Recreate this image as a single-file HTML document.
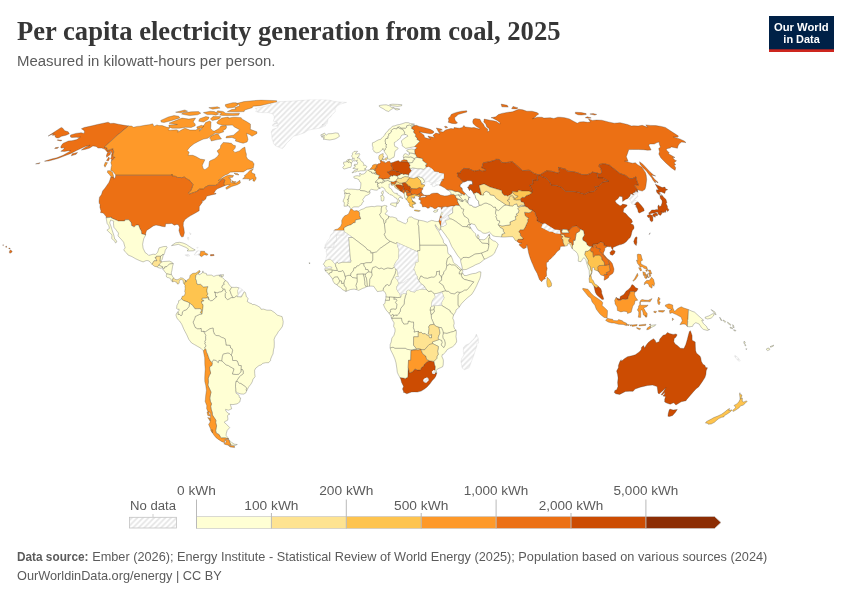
<!DOCTYPE html>
<html><head><meta charset="utf-8"><title>Per capita electricity generation from coal, 2025</title>
<style>html,body{margin:0;padding:0;background:#fff}svg{display:block;will-change:transform}</style></head>
<body><svg width="850" height="600" viewBox="0 0 850 600">

<defs><clipPath id="mapclip"><rect x="0" y="99.5" width="850" height="380"/></clipPath>
<pattern id="hatchm" patternUnits="userSpaceOnUse" width="5.6" height="5.6">
<rect width="5.6" height="5.6" fill="#fff"/><path d="M-1 6.6L6.6 -1M-1 1L1 -1M4.6 6.6L6.6 4.6" stroke="#e4e4e4" stroke-width="1.6" fill="none"/>
</pattern></defs>
<g clip-path="url(#mapclip)" stroke="#333333" stroke-width="0.5" stroke-opacity="0.55" stroke-linejoin="round">
<path d="M70.5 135.0L75.8 133.4L81.1 132.7L84.1 133.4L84.5 131.8L84.0 130.4L81.4 128.8L84.2 127.5L92.1 125.8L97.3 124.5L108.1 122.2L110.4 123.4L113.9 123.3L118.3 124.2L122.9 125.1L128.6 125.9L116.1 136.3L104.2 147.3L107.0 147.8L107.5 150.5L110.5 149.4L113.1 148.5L113.1 149.5L113.6 150.9L113.8 151.9L112.9 155.1L112.8 156.3L115.0 157.5L114.7 158.0L113.1 159.5L111.4 160.9L111.7 159.5L110.6 158.7L111.4 157.0L111.4 155.3L111.9 153.4L111.5 152.2L110.9 151.2L108.7 152.2L107.1 151.9L106.3 150.9L104.6 149.1L101.6 148.1L98.0 148.1L96.1 146.4L92.9 145.9L89.7 148.1L85.6 149.3L81.3 150.0L85.8 146.9L90.1 145.2L85.7 146.2L80.8 148.5L76.5 150.5L70.9 153.4L64.2 156.0L57.8 158.5L52.4 160.0L48.5 161.0L44.5 161.2L51.5 159.0L56.7 157.8L63.1 155.3L68.4 152.2L70.7 150.9L68.2 150.7L64.6 151.4L60.8 151.3L63.7 149.3L64.5 147.8L61.1 148.1L60.7 146.9L62.0 144.5L63.3 143.3L68.4 141.0L71.9 140.7L76.9 139.6L80.5 137.0L78.7 137.5L76.4 137.2L71.8 137.5L70.5 137.0Z" fill="#ec7014"/>
<path d="M128.6 125.9L131.6 126.1L133.5 127.3L137.1 126.4L139.8 126.2L146.1 125.1L149.1 124.7L152.6 123.8L153.2 124.7L153.8 126.4L157.0 124.9L158.9 125.6L162.2 125.6L167.0 127.3L170.2 127.5L168.0 129.8L170.1 130.2L176.5 129.8L178.5 130.7L177.6 132.2L181.4 130.0L184.7 128.2L186.0 128.6L189.9 130.0L195.8 130.0L198.8 128.4L200.8 129.1L199.2 131.1L201.6 129.5L201.6 127.3L204.1 125.1L205.6 122.5L209.5 121.0L211.1 121.9L210.9 124.0L210.9 126.0L210.6 128.4L213.0 130.9L214.5 131.1L219.1 128.4L220.9 126.0L226.2 125.6L226.6 127.3L225.8 128.9L222.9 130.7L223.8 131.8L219.0 133.4L214.8 133.1L214.1 134.0L211.3 135.6L207.7 138.2L203.6 139.1L201.8 139.8L198.3 141.4L194.0 143.8L190.0 146.9L187.2 150.5L189.2 152.2L188.1 155.3L192.8 155.3L195.9 156.5L200.2 159.0L204.9 159.8L202.3 165.2L203.1 168.4L204.9 169.7L207.5 167.9L208.8 166.4L209.2 162.7L209.7 161.0L214.7 158.7L217.4 156.5L219.0 154.1L217.0 150.9L220.5 148.1L220.6 145.7L223.2 142.4L228.0 142.8L231.4 143.3L233.2 145.0L235.5 145.7L235.2 148.1L233.1 150.5L234.9 152.4L239.4 150.9L242.5 148.3L244.9 147.1L245.6 151.7L246.4 154.1L246.3 156.5L247.6 159.0L250.4 160.7L252.4 161.4L254.1 163.9L253.6 166.4L253.4 167.7L250.6 168.9L247.2 169.4L243.4 171.9L239.4 171.9L234.4 171.9L230.3 172.2L227.6 174.2L225.1 175.0L222.0 177.3L218.2 180.6L222.1 178.3L225.9 176.0L229.3 175.0L233.6 175.5L232.6 177.3L228.7 177.8L231.0 179.1L230.6 180.8L230.9 182.4L232.8 182.9L236.0 183.1L239.9 180.3L240.4 182.9L237.4 184.7L231.7 186.5L226.6 189.3L225.7 187.8L230.2 184.7L227.0 184.9L224.7 185.7L224.6 185.8L224.2 184.7L223.7 183.7L224.9 180.1L224.1 179.4L222.4 179.2L220.1 181.1L218.7 183.1L217.3 184.4L215.5 185.4L208.8 185.4L208.1 185.7L204.8 187.5L203.2 189.1L199.6 189.1L198.1 190.0L197.8 191.1L194.2 192.4L189.4 194.0L188.4 193.2L188.7 192.4L190.9 190.6L193.0 184.7L191.6 182.6L190.4 181.6L190.0 180.6L187.2 179.1L184.2 177.0L181.7 177.8L180.8 177.5L177.7 177.5L175.3 176.3L172.2 176.0L172.0 174.2L171.5 175.2L115.7 175.2L115.4 174.5L114.0 172.7L112.9 171.4L110.8 170.2L111.1 167.7L111.7 165.2L110.8 162.7L111.4 161.0L111.4 160.9L113.1 159.5L114.7 158.0L115.0 157.5L112.8 156.3L112.9 155.1L113.8 151.9L113.6 150.9L113.1 149.5L113.1 148.5L110.5 149.4L107.5 150.5L107.0 147.8L104.2 147.3L116.1 136.3Z" fill="#fe9929"/>
<path d="M224.6 185.8L221.1 187.2L217.4 188.8L215.4 190.6L215.0 191.6L214.1 192.4L214.8 193.7L216.0 193.1L215.8 194.1L213.5 194.5L211.2 195.0L207.3 196.0L206.4 196.8L205.7 199.1L203.2 201.1L202.3 199.9L202.4 202.3L199.7 205.9L199.3 206.4L199.2 210.7L196.7 212.2L193.1 214.3L190.3 215.8L187.7 217.6L185.0 219.5L183.4 222.6L183.2 225.7L183.9 228.6L184.4 232.8L183.4 236.5L181.7 237.1L180.3 235.1L179.7 233.1L178.9 230.4L179.5 227.3L178.3 224.7L176.8 224.4L174.2 225.2L171.9 223.4L168.6 223.7L165.7 223.7L165.2 226.8L162.4 226.5L159.6 225.7L156.0 225.1L153.2 226.0L149.7 228.4L146.6 230.4L145.7 233.3L145.7 234.9L141.6 233.8L141.3 231.0L140.0 228.9L138.5 225.0L136.1 225.1L134.2 227.1L131.5 225.5L131.2 222.7L128.8 219.8L125.0 219.8L124.7 221.0L118.3 221.0L111.2 217.9L111.6 217.3L106.1 217.8L106.1 217.8L106.1 216.6L104.5 214.6L104.5 214.0L102.7 212.9L100.5 212.6L101.0 210.9L99.9 207.2L100.1 204.1L99.2 203.6L99.0 201.0L99.5 197.2L101.5 194.5L102.6 191.0L105.1 188.0L108.9 182.4L109.8 180.3L110.9 176.8L114.0 177.3L113.9 179.1L115.4 177.3L115.7 175.2L171.5 175.2L172.0 174.2L172.2 176.0L175.3 176.3L177.7 177.5L180.8 177.5L181.7 177.8L184.2 177.0L187.2 179.1L190.0 180.6L190.4 181.6L191.6 182.6L193.0 184.7L190.9 190.6L188.7 192.4L188.4 193.2L189.4 194.0L194.2 192.4L197.8 191.1L198.1 190.0L199.6 189.1L203.2 189.1L204.8 187.5L208.1 185.7L208.8 185.4L215.5 185.4L217.3 184.4L218.7 183.1L220.1 181.1L222.4 179.2L224.1 179.4L224.9 180.1L223.7 183.7L224.2 184.7Z" fill="#ec7014"/>
<path d="M145.7 234.9L145.7 235.0L143.7 238.8L142.6 244.3L143.1 248.2L145.2 252.6L147.5 254.2L148.7 255.4L153.2 254.2L155.4 254.5L157.5 252.4L158.2 250.6L159.0 247.9L163.3 246.6L166.5 246.4L167.1 247.7L165.3 250.0L164.8 252.4L163.7 255.0L163.1 254.5L162.7 254.5L161.2 256.0L160.5 256.3L156.3 256.3L156.1 257.7L155.1 257.7L156.0 258.7L157.0 260.8L154.1 260.8L152.8 263.0L152.1 264.4L149.1 261.0L147.1 260.5L146.2 260.6L143.1 261.9L139.8 260.7L135.7 258.8L131.9 256.6L128.0 255.0L126.5 252.9L124.2 250.8L123.9 249.5L125.1 247.9L124.8 246.6L123.6 242.2L121.0 239.1L118.0 235.9L118.5 233.1L116.6 230.7L116.1 229.9L113.9 227.3L113.4 223.1L113.8 221.3L110.7 219.9L109.7 222.9L111.1 226.5L112.0 229.7L113.0 232.8L113.9 235.4L114.7 239.1L115.9 239.8L116.9 241.9L115.5 243.0L114.9 241.4L111.7 238.5L112.0 234.9L109.6 232.8L107.3 230.4L106.9 230.1L109.4 228.4L108.8 225.7L107.1 223.4L106.5 220.0L106.1 217.8L111.6 217.3L111.2 217.9L118.3 221.0L124.7 221.0L125.0 219.8L128.8 219.8L131.2 222.7L131.5 225.5L134.2 227.1L136.1 225.1L138.5 225.0L140.0 228.9L141.3 231.0L141.6 233.8Z" fill="#ffffd4"/>
<path d="M163.1 254.5L162.8 257.1L162.0 259.7L160.5 261.3L159.8 261.3L160.5 256.3L161.2 256.0L162.7 254.5Z" fill="#ffffd4"/>
<path d="M160.5 261.3L162.0 261.8L159.5 264.0L159.0 265.1L157.2 266.9L157.2 266.9L154.7 266.4L152.5 264.8L152.1 264.4L152.8 263.0L154.1 260.8L157.0 260.8L156.0 258.7L155.1 257.7L156.1 257.7L156.3 256.3L160.5 256.3L159.8 261.3Z" fill="#fee391"/>
<path d="M162.0 261.8L162.0 261.8L163.6 261.5L167.1 261.3L169.4 261.1L171.6 262.1L173.2 263.5L169.3 264.1L167.0 266.6L164.8 266.9L164.8 268.1L163.4 268.8L163.2 268.1L162.3 267.8L162.7 266.8L160.9 266.2L159.0 265.1L159.5 264.0Z" fill="#ffffd4"/>
<path d="M173.2 263.5L173.4 263.6L172.6 266.2L172.0 270.1L171.3 272.8L171.3 274.3L171.4 274.3L170.5 274.6L168.5 274.2L166.7 273.9L166.7 273.9L165.0 272.0L163.3 269.6L162.5 269.0L163.4 268.8L164.8 268.1L164.8 266.9L167.0 266.6L169.3 264.1Z" fill="#ffffd4"/>
<path d="M171.4 274.3L172.7 276.7L173.6 277.8L173.7 277.9L172.8 279.0L172.5 281.7L171.1 280.6L171.1 279.3L168.9 277.7L167.8 277.7L166.5 276.9L166.3 275.6L166.7 273.9L168.5 274.2L170.5 274.6Z" fill="#ffffd4"/>
<path d="M173.7 277.9L174.8 279.3L177.1 279.8L179.4 278.8L180.7 277.7L182.9 278.2L185.4 280.2L185.5 281.9L184.0 283.9L183.0 281.9L183.5 280.9L181.7 279.6L180.6 279.4L179.3 281.1L179.2 283.2L178.3 283.9L177.1 283.9L177.0 282.4L175.4 281.9L174.7 281.4L172.6 281.8L172.5 281.7L172.8 279.0Z" fill="#fee391"/>
<path d="M162.3 267.8L160.7 268.3L157.8 267.5L157.2 266.9L159.0 265.1L160.9 266.2L162.7 266.8Z" fill="#ffffd4"/>
<path d="M194.1 254.9L196.9 251.0L198.3 250.8L200.6 251.2L200.7 251.2L200.5 253.2L199.7 254.2L200.0 255.6L198.7 255.3L197.9 254.6L198.8 254.2L196.2 255.1Z" fill="url(#hatchm)" stroke="#b8b8b8" stroke-width="0.4"/>
<path d="M200.7 251.2L204.6 251.3L204.7 252.4L208.0 254.2L207.1 255.3L204.2 254.7L201.5 256.7L200.1 255.7L200.0 255.6L199.7 254.2L200.5 253.2Z" fill="#fe9929"/>
<path d="M242.6 178.8L245.2 176.5L244.1 176.0L247.1 173.5L249.9 170.4L253.4 168.7L251.6 171.4L251.9 173.0L254.8 174.0L255.1 176.5L256.2 177.5L256.0 179.1L254.4 181.4L252.9 180.8L253.1 178.5L249.1 180.6L249.7 179.1L246.3 178.8Z" fill="#fe9929"/>
<path d="M107.6 170.7L110.4 170.7L112.6 172.5L113.6 176.3L113.2 177.0L110.9 176.5L109.6 174.7L107.4 172.5Z" fill="#fe9929"/>
<path d="M105.3 162.2L107.5 162.7L105.0 167.2L104.2 165.2Z" fill="#fe9929"/>
<path d="M234.0 173.0L237.8 173.7L239.0 175.0L235.5 174.5Z" fill="#fe9929"/>
<path d="M231.7 180.6L233.8 181.6L236.2 181.7L234.6 182.9L232.3 182.4Z" fill="#fe9929"/>
<path d="M236.0 117.2L241.2 117.7L241.8 118.9L246.4 121.5L250.4 124.0L250.5 126.7L250.3 129.3L256.9 131.8L257.0 133.4L252.0 136.3L249.5 134.5L246.6 133.4L247.4 136.8L248.0 139.6L247.1 141.9L243.1 143.3L240.0 142.4L235.4 141.0L235.9 139.1L232.0 137.5L225.9 137.9L226.6 136.3L233.4 135.2L236.9 132.2L238.8 130.7L239.6 129.8L234.4 126.9L232.3 125.1L227.2 125.3L222.5 125.3L218.3 124.0L216.7 123.0L218.1 120.8L221.8 118.1L228.3 117.0L228.5 118.1L233.6 117.2Z" fill="#fe9929"/>
<path d="M171.8 122.1L182.0 118.1L188.8 119.1L195.6 118.1L193.2 121.9L195.2 124.0L195.2 125.8L191.2 127.5L185.5 127.3L179.6 128.2L172.0 128.2L169.2 126.9L168.8 125.1L177.4 124.5L171.5 123.8L169.0 123.2Z" fill="#fe9929"/>
<path d="M160.8 120.4L168.3 117.0L174.0 115.6L178.7 116.2L179.9 117.9L170.8 120.8L164.0 122.5L161.2 122.1Z" fill="#fe9929"/>
<path d="M234.6 104.1L244.0 101.6L261.1 99.9L276.7 100.7L276.6 102.4L269.2 103.6L260.1 105.7L253.0 106.2L252.2 107.7L244.8 110.0L244.1 111.6L238.6 111.8L231.7 111.8L227.4 111.6L231.7 109.6L236.1 109.0L234.6 107.7L239.7 105.8L238.7 104.2Z" fill="#fe9929"/>
<path d="M225.4 104.6L232.8 102.7L236.3 102.7L237.9 104.9L233.3 107.5L227.5 108.1L225.4 106.2Z" fill="#fe9929"/>
<path d="M217.6 110.8L223.0 111.4L225.7 113.2L232.4 113.4L239.5 113.2L238.5 115.2L231.9 115.6L222.7 115.4L219.5 115.0L221.5 113.2L216.4 112.6Z" fill="#fe9929"/>
<path d="M183.2 112.8L191.4 111.8L198.5 111.6L200.8 113.2L197.6 114.8L189.7 115.6L185.2 114.8L181.6 114.0Z" fill="#fe9929"/>
<path d="M175.6 112.2L184.8 110.0L187.6 111.2L180.9 112.8Z" fill="#fe9929"/>
<path d="M203.4 112.6L210.4 111.2L214.4 111.6L218.7 114.0L215.9 115.2L211.9 114.6L207.2 114.6L205.2 113.6Z" fill="#fe9929"/>
<path d="M212.9 116.6L220.8 116.6L219.0 118.9L212.3 120.6L210.4 119.1Z" fill="#fe9929"/>
<path d="M199.7 118.7L205.8 116.6L209.1 117.2L208.2 119.3L203.6 122.1L198.7 121.2Z" fill="#fe9929"/>
<path d="M196.8 126.9L201.5 125.3L204.0 126.2L201.5 128.2L197.1 128.4Z" fill="#fe9929"/>
<path d="M210.8 136.3L215.9 134.0L218.3 134.3L220.0 137.0L221.5 138.9L217.5 139.6L211.2 141.0L210.7 139.1L209.5 138.2Z" fill="#fe9929"/>
<path d="M208.8 107.7L217.4 106.8L220.1 108.1L212.8 109.2Z" fill="#fe9929"/>
<path d="M171.5 245.6L175.8 242.7L179.7 242.3L183.0 243.0L186.2 244.3L189.3 246.4L192.0 248.2L195.2 249.9L193.3 250.8L187.2 251.0L188.5 249.0L185.8 247.4L181.5 245.6L178.3 244.3L174.8 245.1Z" fill="#ffffd4"/>
<path d="M185.1 254.7L188.3 254.6L190.0 255.8L187.7 256.4L185.3 255.4Z" fill="url(#hatchm)" stroke="#b8b8b8" stroke-width="0.4"/>
<path d="M210.5 254.6L214.0 254.6L214.1 255.5L210.5 255.9Z" fill="#ec7014"/>
<path d="M187.6 237.2L188.9 237.5L188.7 240.1L187.7 239.3Z" fill="url(#hatchm)" stroke="#b8b8b8" stroke-width="0.4"/>
<path d="M189.2 232.8L191.1 233.6L190.4 234.9L190.4 233.6Z" fill="url(#hatchm)" stroke="#b8b8b8" stroke-width="0.4"/>
<path d="M196.6 247.7L198.2 247.2L197.7 248.2Z" fill="url(#hatchm)" stroke="#b8b8b8" stroke-width="0.4"/>
<path d="M221.2 274.9L223.5 274.6L223.2 276.4L221.1 276.5Z" fill="#ffffd4"/>
<path d="M9.5 251.2L10.3 249.9L11.7 250.8L12.2 251.9L9.9 253.3L9.4 252.4Z" fill="#ec7014"/>
<path d="M8.7 248.2L9.9 248.1L10.2 248.7L9.2 249.0Z" fill="#ec7014"/>
<path d="M5.7 246.5L6.4 246.1L6.8 247.2L5.8 247.2Z" fill="#ec7014"/>
<path d="M2.6 245.1L3.6 244.8L3.3 245.6Z" fill="#ec7014"/>
<path d="M108.9 157.0L109.5 158.7L108.3 161.0L106.5 160.5Z" fill="#ec7014"/>
<path d="M107.5 152.6L110.8 152.2L110.2 154.6L106.6 157.3L106.5 155.3Z" fill="#ec7014"/>
<path d="M72.2 153.8L77.5 152.4L76.1 154.3L71.3 155.8Z" fill="#ec7014"/>
<path d="M57.6 139.8L61.8 140.3L61.2 141.0L57.3 140.3Z" fill="#ec7014"/>
<path d="M55.6 147.6L58.7 147.3L57.2 148.5L54.6 148.5Z" fill="#ec7014"/>
<path d="M35.6 163.9L40.2 162.7L38.8 163.7Z" fill="#ec7014"/>
<path d="M185.4 280.2L186.4 281.9L186.7 280.3L189.6 278.2L190.0 275.6L191.7 273.9L193.1 273.3L195.9 273.0L197.8 271.7L199.1 270.3L200.3 271.2L199.8 271.8L197.6 273.8L195.9 275.6L195.5 278.5L196.6 280.9L196.5 282.2L197.6 284.5L200.6 284.3L203.5 286.9L208.0 286.6L207.1 289.0L206.9 291.0L207.4 293.1L208.1 293.9L206.8 295.5L208.3 296.7L209.0 299.6L208.5 299.7L207.9 297.6L206.0 298.2L202.2 298.3L202.1 300.0L203.8 300.2L203.6 301.2L201.7 301.4L201.7 303.3L202.7 304.1L203.2 305.7L202.1 313.8L200.3 312.7L201.7 309.9L199.9 308.7L197.5 308.8L194.9 308.8L192.6 305.4L189.6 303.1L187.3 301.9L183.8 300.7L181.4 299.0L182.2 296.3L184.3 295.7L185.3 292.9L184.7 291.8L185.2 288.4L184.9 286.3L185.1 285.3L184.0 283.9L185.5 281.9Z" fill="#fec44f"/>
<path d="M199.8 271.8L198.3 273.8L199.0 274.9L200.4 274.2L202.3 273.0L202.9 270.9L203.4 272.8L206.4 273.5L206.7 275.1L209.7 275.1L211.6 275.1L213.8 276.4L216.4 275.4L221.2 274.9L219.1 275.6L219.5 276.4L222.0 277.2L223.6 278.8L225.4 280.5L223.6 283.1L224.5 284.3L222.5 285.3L221.9 287.3L223.3 289.2L222.8 290.9L220.8 292.0L218.6 292.2L218.0 293.1L214.4 292.1L215.3 292.6L215.6 296.3L217.1 296.5L215.7 297.7L212.2 300.7L210.3 300.8L209.0 299.6L208.3 296.7L206.8 295.5L208.1 293.9L207.4 293.1L206.9 291.0L207.1 289.0L208.0 286.6L203.5 286.9L200.6 284.3L197.6 284.5L196.5 282.2L196.6 280.9L195.5 278.5L195.9 275.6L197.6 273.8Z" fill="#ffffd4"/>
<path d="M225.4 280.5L227.6 281.9L229.1 284.8L231.7 287.3L229.9 290.3L231.2 294.2L233.0 297.7L231.1 297.7L229.5 298.9L227.6 299.7L225.6 298.0L225.0 296.0L225.3 293.4L226.0 292.5L225.1 291.0L224.8 289.2L223.3 289.2L221.9 287.3L222.5 285.3L224.5 284.3L223.6 283.1Z" fill="#ffffd4"/>
<path d="M231.7 287.3L234.3 287.4L236.6 287.3L238.9 287.8L237.8 291.0L238.3 295.0L237.4 296.7L236.4 296.1L234.3 297.6L233.0 297.7L231.2 294.2L229.9 290.3Z" fill="#ffffd4"/>
<path d="M238.9 287.8L241.2 288.4L242.8 290.0L244.2 291.8L242.7 294.6L241.3 297.1L239.2 296.8L237.4 296.7L238.3 295.0L237.8 291.0Z" fill="url(#hatchm)" stroke="#b8b8b8" stroke-width="0.4"/>
<path d="M244.2 291.8L245.5 292.6L246.4 296.8L248.2 298.4L247.2 301.5L249.8 303.1L251.9 303.8L252.6 304.6L254.2 304.4L257.2 305.7L260.2 307.5L261.1 309.3L263.4 309.1L266.9 310.2L271.0 310.2L274.5 312.5L277.3 315.1L280.4 316.1L282.1 316.6L282.8 319.8L283.2 321.5L283.0 324.0L282.2 326.8L279.7 330.2L278.4 331.5L277.3 333.6L275.1 336.8L274.1 339.4L274.3 343.3L274.2 347.2L273.5 349.8L273.0 354.0L272.0 355.8L270.6 359.2L270.7 360.3L268.6 362.7L265.9 362.7L262.6 363.4L261.1 365.0L259.1 365.5L255.8 368.1L254.6 370.2L254.7 373.3L255.1 376.7L253.0 379.3L252.2 381.9L250.8 384.3L248.7 386.9L246.6 391.0L246.1 389.4L246.8 388.2L244.9 386.4L242.9 384.9L240.5 383.4L239.6 383.4L237.5 381.4L235.8 381.7L237.3 379.9L239.1 377.0L240.7 375.5L243.2 373.7L243.2 371.4L242.6 369.7L240.9 369.7L241.2 365.6L238.7 365.4L237.4 361.2L235.7 360.5L232.6 360.5L232.4 357.4L231.5 355.5L231.5 354.5L232.6 350.3L231.9 348.6L230.6 348.0L230.1 345.4L226.0 345.2L225.7 342.2L225.1 338.8L223.7 338.1L221.4 337.3L219.0 335.8L216.0 335.5L214.3 334.1L213.3 331.0L213.1 328.1L210.1 328.7L207.2 330.6L205.7 331.8L203.7 331.4L201.3 331.5L201.1 328.4L199.5 328.9L197.5 328.9L195.1 327.4L193.0 322.1L193.7 320.8L194.7 318.5L195.3 316.4L199.7 314.3L201.5 314.0L202.1 313.8L203.2 305.7L202.7 304.1L201.7 303.3L201.7 301.4L203.6 301.2L203.8 300.2L202.1 300.0L202.2 298.3L206.0 298.2L207.9 297.6L208.5 299.7L209.0 299.6L210.3 300.8L212.2 300.7L215.7 297.7L217.1 296.5L215.6 296.3L215.3 292.6L214.4 292.1L218.0 293.1L218.6 292.2L220.8 292.0L222.8 290.9L223.3 289.2L224.8 289.2L225.1 291.0L226.0 292.5L225.3 293.4L225.0 296.0L225.6 298.0L227.6 299.7L229.5 298.9L231.1 297.7L233.0 297.7L234.3 297.6L236.4 296.1L237.4 296.7L239.2 296.8L241.3 297.1L242.7 294.6Z" fill="#ffffd4"/>
<path d="M246.6 391.0L246.0 392.7L243.8 394.1L241.0 394.0L237.3 392.8L235.7 391.3L235.7 389.0L235.5 386.4L235.6 383.8L235.8 381.7L237.5 381.4L239.6 383.4L240.5 383.4L242.9 384.9L244.9 386.4L246.8 388.2L246.1 389.4Z" fill="#ffffd4"/>
<path d="M235.7 391.3L236.1 393.2L239.1 395.3L239.3 397.4L240.7 397.9L239.8 402.0L237.0 403.9L233.0 404.6L230.3 404.4L231.7 408.8L228.4 410.2L225.6 409.3L225.9 411.1L228.2 413.2L229.9 414.0L228.3 414.7L227.5 415.8L227.9 418.9L227.7 420.2L224.6 421.7L224.6 422.7L227.5 425.3L229.7 427.6L227.2 430.4L226.3 433.4L226.1 435.4L228.7 438.8L225.2 437.9L221.4 437.9L220.2 436.9L219.2 434.7L216.1 432.9L215.7 430.4L216.2 427.8L216.6 425.8L215.7 422.7L215.9 420.2L214.1 417.6L212.4 415.0L212.2 412.4L211.2 409.3L210.7 406.2L211.6 403.9L210.4 401.5L209.8 398.1L210.4 395.0L211.0 392.1L209.6 389.0L207.9 385.1L208.4 382.2L208.2 378.5L209.3 375.4L210.7 373.1L209.7 369.4L209.6 366.8L211.9 365.5L212.3 362.9L211.8 362.4L213.5 359.7L216.1 360.5L218.3 362.5L218.9 360.3L221.9 360.9L226.0 364.8L228.3 365.5L231.2 367.3L234.1 368.9L232.5 374.0L236.3 374.5L238.5 374.2L240.9 372.0L240.9 369.7L242.6 369.7L243.2 371.4L243.2 373.7L240.7 375.5L239.1 377.0L237.3 379.9L235.8 381.7L235.6 383.8L235.5 386.4L235.7 389.0Z" fill="#ffffd4"/>
<path d="M228.7 438.8L226.7 439.2L224.4 439.9L224.9 441.4L224.7 442.7L221.9 441.7L219.1 439.9L216.3 437.9L214.2 435.4L211.6 431.6L210.1 427.8L208.6 424.5L210.0 422.2L210.2 418.9L210.6 415.0L210.1 412.4L208.1 411.9L206.6 408.5L206.8 405.7L205.1 401.3L205.4 399.4L205.7 395.5L206.4 390.3L205.7 385.1L204.8 381.7L204.7 378.5L204.9 373.3L205.2 369.1L204.8 364.2L204.7 357.7L203.3 350.7L204.5 349.6L205.2 348.5L206.2 349.8L206.6 352.2L207.4 353.5L208.1 355.6L209.1 358.4L210.0 360.3L211.8 362.4L212.3 362.9L211.9 365.5L209.6 366.8L209.7 369.4L210.7 373.1L209.3 375.4L208.2 378.5L208.4 382.2L207.9 385.1L209.6 389.0L211.0 392.1L210.4 395.0L209.8 398.1L210.4 401.5L211.6 403.9L210.7 406.2L211.2 409.3L212.2 412.4L212.4 415.0L214.1 417.6L215.9 420.2L215.7 422.7L216.6 425.8L216.2 427.8L215.7 430.4L216.1 432.9L219.2 434.7L220.2 436.9L221.4 437.9L225.2 437.9Z" fill="#fe9929"/>
<path d="M203.3 350.7L200.8 348.2L197.6 346.4L194.5 344.6L191.6 343.0L188.8 339.4L187.4 336.2L186.5 334.3L185.0 331.5L183.7 328.9L182.6 326.3L181.6 324.0L179.4 320.8L177.0 318.5L176.2 315.9L175.9 315.0L176.8 313.0L178.1 311.7L178.4 313.0L178.0 314.4L179.8 314.4L181.0 315.9L181.9 314.8L182.5 311.7L183.9 310.6L186.6 309.6L188.9 306.7L189.6 303.1L192.6 305.4L194.9 308.8L197.5 308.8L199.9 308.7L201.7 309.9L200.3 312.7L202.1 313.8L201.5 314.0L199.7 314.3L195.3 316.4L194.7 318.5L193.7 320.8L193.0 322.1L195.1 327.4L197.5 328.9L199.5 328.9L201.1 328.4L201.3 331.5L203.7 331.4L206.0 335.5L205.6 336.2L205.8 339.9L204.8 341.5L205.5 342.0L204.9 343.5L206.1 345.9L204.8 347.7L205.2 348.5L204.5 349.6Z" fill="#ffffd4"/>
<path d="M178.1 311.7L179.0 310.6L179.0 308.8L178.1 309.6L176.6 308.5L176.9 305.4L177.8 303.8L178.5 302.5L178.6 300.7L179.9 300.2L181.4 299.0L183.8 300.7L187.3 301.9L189.6 303.1L188.9 306.7L186.6 309.6L183.9 310.6L182.5 311.7L181.9 314.8L181.0 315.9L179.8 314.4L178.0 314.4L178.4 313.0Z" fill="#ffffd4"/>
<path d="M203.7 331.4L205.7 331.8L207.2 330.6L210.1 328.7L213.1 328.1L213.3 331.0L214.3 334.1L216.0 335.5L219.0 335.8L221.4 337.3L223.7 338.1L225.1 338.8L225.7 342.2L226.0 345.2L230.1 345.4L230.6 348.0L231.9 348.6L232.6 350.3L231.5 354.5L231.5 355.5L229.2 353.3L227.2 353.2L223.3 354.1L222.4 356.5L221.9 360.9L218.9 360.3L218.3 362.5L216.1 360.5L213.5 359.7L211.8 362.4L210.0 360.3L209.1 358.4L208.1 355.6L207.4 353.5L206.6 352.2L206.2 349.8L205.2 348.5L204.8 347.7L206.1 345.9L204.9 343.5L205.5 342.0L204.8 341.5L205.8 339.9L205.6 336.2L206.0 335.5Z" fill="#ffffd4"/>
<path d="M221.9 360.9L222.4 356.5L223.3 354.1L227.2 353.2L229.2 353.3L231.5 355.5L232.4 357.4L232.6 360.5L235.7 360.5L237.4 361.2L238.7 365.4L241.2 365.6L240.9 369.7L240.9 372.0L238.5 374.2L236.3 374.5L232.5 374.0L234.1 368.9L231.2 367.3L228.3 365.5L226.0 364.8Z" fill="#ffffd4"/>
<path d="M228.6 439.5L229.7 440.4L231.9 442.7L234.6 444.2L237.3 444.5L235.2 445.4L231.6 445.1L231.0 445.2Z" fill="#ffffd4"/>
<path d="M231.0 445.2L228.4 445.3L225.1 444.4L223.8 443.7L225.4 442.9L226.4 441.7L225.1 440.2L227.0 439.4L228.6 439.5Z" fill="#fe9929"/>
<path d="M228.5 445.6L234.4 445.9L234.6 447.6L230.1 446.9Z" fill="#fe9929"/>
<path d="M207.0 411.9L208.5 412.0L210.1 416.0L207.8 415.5Z" fill="#fe9929"/>
<path d="M212.5 432.9L212.7 429.9L210.7 429.9Z" fill="#fe9929"/>
<path d="M207.7 417.6L210.0 418.1L210.1 420.9Z" fill="#fe9929"/>
<path d="M350.5 209.3L351.8 209.0L354.0 210.9L356.8 210.6L358.5 211.2L359.6 212.7L359.6 215.8L360.4 217.4L360.7 219.0L356.9 219.7L355.4 220.3L355.3 222.6L353.4 222.9L351.1 224.7L347.8 225.7L344.0 227.8L344.0 230.5L333.9 230.5L334.6 229.8L337.7 228.9L340.7 226.3L341.8 223.4L341.7 220.5L342.9 217.9L344.7 215.8L346.7 215.0L348.5 213.9L349.6 211.4Z" fill="#fe9929"/>
<path d="M358.5 211.2L361.1 209.6L363.5 208.8L366.1 207.3L369.8 206.7L371.9 206.4L374.3 206.7L376.9 206.0L378.8 206.0L381.9 206.3L381.3 208.8L381.3 212.3L379.7 214.5L381.5 217.9L383.2 219.0L384.4 223.8L385.1 228.9L385.4 232.3L384.3 234.4L386.4 238.5L390.3 241.4L380.3 248.3L376.5 252.0L372.9 252.8L370.8 253.2L370.6 251.1L367.4 249.8L365.9 247.7L352.5 237.5L343.9 231.5L344.0 230.5L344.0 227.8L347.8 225.7L351.1 224.7L353.4 222.9L355.3 222.6L355.4 220.3L356.9 219.7L360.7 219.0L360.4 217.4L359.6 215.8L359.6 212.7Z" fill="#ffffd4"/>
<path d="M381.9 206.3L384.5 205.4L385.5 205.6L387.1 206.0L386.0 207.7L386.3 209.3L387.4 210.9L386.6 212.2L385.1 213.5L385.4 214.3L387.6 215.3L388.6 216.2L388.6 218.2L386.0 220.0L386.0 222.1L384.4 223.8L383.2 219.0L381.5 217.9L379.7 214.5L381.3 212.3L381.3 208.8Z" fill="#ffffd4"/>
<path d="M388.6 216.2L390.3 217.0L392.2 216.9L394.7 217.6L396.7 218.3L397.2 220.3L399.9 221.3L403.1 222.9L405.6 223.7L407.5 221.8L407.4 219.0L409.4 217.1L411.5 216.9L414.3 218.7L416.1 219.2L418.7 220.1L418.0 224.2L418.8 226.5L419.8 245.3L420.0 250.6L417.7 250.6L417.7 251.9L397.1 242.7L395.3 243.6L390.3 241.4L386.4 238.5L384.3 234.4L385.4 232.3L385.1 228.9L384.4 223.8L386.0 222.1L386.0 220.0L388.6 218.2Z" fill="#ffffd4"/>
<path d="M418.7 220.1L423.3 220.9L427.4 222.2L429.3 221.3L431.6 220.4L433.9 220.8L434.6 221.2L437.2 221.6L438.8 221.0L440.7 225.7L440.3 228.4L439.9 229.7L439.7 230.4L438.1 228.9L437.1 227.3L435.8 225.5L435.4 224.6L435.2 225.7L436.5 228.4L438.2 230.7L438.9 231.8L440.3 234.9L441.9 237.8L443.2 240.1L443.5 242.7L446.6 245.3L419.8 245.3L418.8 226.5L418.0 224.2Z" fill="#ffffd4"/>
<path d="M446.6 245.3L447.5 247.9L447.7 251.6L448.2 253.7L451.1 255.8L447.6 258.4L446.4 263.4L446.9 265.6L446.0 269.6L443.8 272.0L443.5 274.3L442.0 275.4L441.6 278.0L441.1 276.2L439.3 274.9L439.4 270.9L438.3 271.5L436.7 271.5L436.3 275.4L434.1 277.3L431.1 277.2L427.6 278.4L424.4 278.0L420.9 275.9L420.3 277.2L418.9 280.1L417.3 279.3L417.5 276.9L415.8 274.3L414.2 269.6L413.3 269.6L414.8 266.0L415.6 262.2L418.1 261.8L417.7 251.9L417.7 250.6L420.0 250.6L419.8 245.3Z" fill="#ffffd4"/>
<path d="M451.1 255.8L452.7 259.7L453.3 262.1L454.7 263.6L457.5 265.4L460.4 268.3L462.1 269.6L460.4 270.2L457.1 267.5L454.7 265.1L451.3 265.1L449.9 264.0L448.1 265.2L446.9 265.6L446.4 263.4L447.6 258.4Z" fill="#ffffd4"/>
<path d="M462.1 269.6L462.8 271.5L461.9 272.5L462.5 272.8L461.9 274.1L459.2 274.1L459.1 272.8L460.4 270.2Z" fill="#ffffd4"/>
<path d="M462.5 272.8L464.3 275.5L466.6 275.5L468.9 274.7L472.3 273.7L475.7 273.3L479.1 271.7L480.9 271.9L480.6 275.5L480.0 278.2L478.3 281.9L476.6 285.8L473.9 291.0L471.7 294.4L467.9 297.4L464.8 300.2L461.4 303.8L459.2 307.1L457.9 305.0L457.9 295.2L459.9 292.4L462.2 291.6L464.7 289.9L467.0 289.9L473.7 281.9L464.4 279.4L462.1 277.7L461.2 275.1L461.9 274.1Z" fill="#ffffd4"/>
<path d="M459.2 307.1L457.6 308.8L456.0 309.9L455.8 311.4L454.7 313.4L453.6 315.0L450.2 311.9L450.0 310.6L441.6 305.4L441.6 302.3L442.9 299.9L444.0 297.8L442.9 294.7L441.6 291.8L444.7 290.8L446.1 290.7L446.4 291.2L448.2 291.2L451.1 293.4L454.4 293.8L457.3 291.8L459.9 292.4L457.9 295.2L457.9 305.0Z" fill="#ffffd4"/>
<path d="M453.6 315.0L452.7 318.2L453.8 320.6L454.2 323.4L453.6 325.8L454.5 328.7L456.1 330.2L453.5 331.5L450.5 332.3L447.0 333.4L443.3 333.0L442.7 330.5L441.4 327.6L439.0 327.4L436.8 326.6L434.6 325.3L434.0 324.2L431.5 318.5L431.1 314.4L432.9 313.5L434.3 311.4L433.8 309.1L434.5 307.1L433.6 305.6L441.6 305.4L450.0 310.6L450.2 311.9Z" fill="#ffffd4"/>
<path d="M456.1 330.2L456.4 332.8L456.0 336.5L456.6 340.4L456.6 342.0L454.5 345.1L452.4 346.9L449.6 348.2L447.2 349.6L445.5 352.2L443.3 354.3L442.3 354.6L441.9 356.6L443.1 359.2L443.4 360.8L443.2 365.0L442.6 366.8L440.3 367.8L437.3 369.1L436.3 370.6L436.8 373.0L435.0 372.9L434.9 370.6L435.2 366.8L434.3 364.2L433.9 361.4L436.8 358.4L436.9 356.6L438.2 354.5L437.6 351.1L438.3 348.0L438.3 346.4L434.7 344.6L432.7 343.6L432.3 341.9L439.3 339.4L441.8 340.4L442.3 342.8L441.4 344.3L441.7 345.4L443.7 347.5L444.9 345.4L445.1 343.0L444.5 340.2L442.9 338.1L442.7 335.7L443.3 333.0L447.0 333.4L450.5 332.3L453.5 331.5Z" fill="#ffffd4"/>
<path d="M436.8 373.0L435.9 375.9L434.7 378.0L432.1 380.8L430.0 383.8L427.1 386.9L424.5 389.0L421.2 391.1L419.2 391.6L417.4 392.1L414.4 391.9L411.5 392.1L406.8 393.8L404.4 392.5L403.6 392.5L403.5 391.3L402.5 389.0L403.6 386.4L401.6 382.5L400.8 379.3L399.9 377.5L402.0 377.8L405.5 378.4L407.8 377.0L408.2 367.5L409.6 372.9L412.5 371.8L414.9 368.9L417.8 370.1L420.5 369.9L421.5 367.4L423.7 366.1L424.1 364.6L427.1 361.8L429.6 360.8L431.0 360.9L433.9 361.4L434.3 364.2L435.2 366.8L434.9 370.6L433.7 370.0L432.2 371.5L432.1 372.8L432.9 374.1L434.6 374.1L435.0 372.9ZM423.2 380.1L423.9 381.9L426.1 382.7L428.5 380.6L428.4 378.8L427.1 377.5L424.9 378.3Z" fill="#cc4c02"/>
<path d="M399.9 377.5L398.3 374.6L397.3 372.3L396.8 368.1L396.0 362.9L394.9 359.0L393.2 355.0L390.6 349.8L390.1 347.9L392.9 347.2L395.2 348.2L405.2 348.2L407.7 349.4L410.6 349.8L412.0 349.8L416.5 348.8L419.1 348.5L420.8 349.3L417.9 350.1L416.3 349.8L411.0 350.6L410.7 360.3L408.5 360.3L408.2 367.5L407.8 377.0L405.5 378.4L402.0 377.8Z" fill="#ffffd4"/>
<path d="M390.1 347.9L390.2 344.6L391.2 342.0L391.9 338.1L394.0 335.2L395.0 331.5L395.0 328.9L393.6 326.3L394.1 322.9L392.8 320.8L391.7 318.6L393.7 318.1L401.5 318.1L402.2 321.3L403.8 324.0L407.8 323.7L408.2 321.1L410.0 321.1L410.6 321.9L413.5 321.9L413.7 324.7L413.4 327.6L414.5 330.2L414.2 332.1L415.0 331.7L418.3 331.3L418.3 336.8L413.7 336.8L413.5 345.1L416.5 348.8L412.0 349.8L410.6 349.8L407.7 349.4L405.2 348.2L395.2 348.2L392.9 347.2Z" fill="#ffffd4"/>
<path d="M391.7 318.6L391.4 317.8L392.1 317.7L393.3 316.4L393.5 314.9L394.2 315.3L396.5 314.8L396.7 315.6L398.6 314.0L400.2 311.4L400.7 308.5L404.1 304.1L404.4 300.4L405.1 296.8L406.3 293.7L406.2 291.3L408.2 289.5L410.8 291.3L414.9 292.1L416.1 290.4L419.5 289.5L422.0 289.0L426.5 289.6L428.8 291.6L431.3 290.8L432.9 292.6L434.5 293.7L435.5 297.2L434.6 297.8L432.4 300.7L431.6 304.1L431.5 306.4L430.7 307.2L430.2 310.0L430.7 312.2L431.1 314.4L431.5 318.5L434.0 324.2L429.8 325.0L428.6 327.0L429.1 328.4L428.9 330.7L428.3 333.9L429.9 335.2L431.6 334.5L431.5 337.9L429.7 337.8L428.4 335.5L426.3 334.8L425.2 333.6L422.9 333.9L421.3 332.3L419.3 332.6L418.3 331.3L415.0 331.7L414.2 332.1L414.5 330.2L413.4 327.6L413.7 324.7L413.5 321.9L410.6 321.9L410.0 321.1L408.2 321.1L407.8 323.7L403.8 324.0L402.2 321.3L401.5 318.1L393.7 318.1Z" fill="#ffffd4"/>
<path d="M391.4 317.8L390.9 315.9L392.3 314.3L393.5 314.9L393.3 316.4L392.1 317.7Z" fill="#ffffd4"/>
<path d="M390.9 315.9L388.9 313.1L390.7 311.9L390.1 310.1L391.0 309.1L393.3 308.8L395.8 309.2L396.5 307.8L396.8 304.4L395.4 302.3L396.8 300.4L396.1 299.1L393.8 299.4L394.0 297.1L397.9 297.6L400.7 297.1L401.3 294.4L403.6 293.3L406.3 293.7L405.1 296.8L404.4 300.4L404.1 304.1L400.7 308.5L400.2 311.4L398.6 314.0L396.7 315.6L396.5 314.8L394.2 315.3L393.5 314.9L392.3 314.3Z" fill="#ffffd4"/>
<path d="M388.9 313.1L386.4 310.4L384.8 307.8L383.4 304.5L384.8 303.6L385.2 301.8L385.4 300.2L389.5 300.2L389.5 297.1L389.5 296.8L394.0 297.1L393.8 299.4L396.1 299.1L396.8 300.4L395.4 302.3L396.8 304.4L396.5 307.8L395.8 309.2L393.3 308.8L391.0 309.1L390.1 310.1L390.7 311.9Z" fill="#ffffd4"/>
<path d="M385.4 300.2L385.8 298.4L385.9 296.7L389.5 297.1L389.5 300.2Z" fill="#ffffd4"/>
<path d="M385.9 296.7L386.1 295.0L385.4 292.9L383.8 291.0L382.9 290.4L383.6 287.7L384.5 287.1L385.9 285.0L387.5 284.5L388.9 285.6L390.5 284.3L391.4 280.9L392.9 278.2L393.6 276.7L395.0 273.8L395.8 270.5L395.5 268.6L397.2 270.1L397.8 272.8L397.8 274.6L398.9 276.7L395.9 276.8L395.3 277.7L397.3 279.8L399.0 283.2L396.9 286.6L396.7 289.0L397.9 291.3L400.0 294.2L400.7 297.1L397.9 297.6L394.0 297.1L389.5 296.8L389.5 297.1Z" fill="#ffffd4"/>
<path d="M382.9 290.4L382.4 290.9L379.4 291.3L377.4 291.6L375.7 289.2L373.7 286.3L371.1 286.1L369.5 286.2L369.6 282.4L369.7 279.2L371.6 276.2L372.0 275.1L371.6 272.2L371.7 270.1L372.7 267.5L375.9 266.5L379.1 268.8L381.2 267.9L383.9 269.2L387.8 267.8L391.9 268.6L394.4 267.0L395.5 268.6L395.8 270.5L395.0 273.8L393.6 276.7L392.9 278.2L391.4 280.9L390.5 284.3L388.9 285.6L387.5 284.5L385.9 285.0L384.5 287.1L383.6 287.7Z" fill="#ffffd4"/>
<path d="M369.5 286.2L367.1 286.5L367.1 284.8L366.5 278.5L365.1 275.6L365.4 274.1L366.5 272.9L368.8 271.7L371.6 272.2L372.0 275.1L371.6 276.2L369.7 279.2L369.6 282.4Z" fill="#ffffd4"/>
<path d="M367.1 286.5L366.1 286.9L364.7 284.5L364.7 281.4L364.2 278.0L363.4 275.1L363.0 273.8L365.4 274.1L365.1 275.6L366.5 278.5L367.1 284.8Z" fill="#ffffd4"/>
<path d="M366.1 286.9L364.5 287.8L362.8 288.3L361.0 289.2L358.7 290.4L356.2 289.5L356.9 288.2L355.8 285.6L357.1 281.9L357.0 278.0L356.8 274.1L363.0 273.8L363.4 275.1L364.2 278.0L364.7 281.4L364.7 284.5Z" fill="#ffffd4"/>
<path d="M356.2 289.5L354.1 289.1L350.6 289.5L348.1 290.5L345.9 291.4L346.0 287.5L344.2 286.1L343.8 283.1L344.4 280.6L345.6 278.2L345.0 276.2L349.1 275.2L350.6 275.6L352.5 277.5L357.0 278.0L357.1 281.9L355.8 285.6L356.9 288.2Z" fill="#ffffd4"/>
<path d="M345.9 291.4L342.6 289.7L340.3 287.4L338.4 286.3L336.8 284.8L338.9 282.4L339.7 280.6L341.5 280.9L341.7 283.5L343.8 283.1L344.2 286.1L346.0 287.5Z" fill="#ffffd4"/>
<path d="M336.8 284.8L334.5 283.5L332.9 280.9L332.7 279.2L334.6 276.9L337.6 276.7L338.9 279.0L339.7 280.6L338.9 282.4Z" fill="#ffffd4"/>
<path d="M332.7 279.2L331.8 278.0L329.8 275.4L328.9 274.2L329.6 272.8L331.9 272.2L331.9 269.7L334.9 270.5L337.2 270.4L338.8 271.5L341.1 271.3L342.7 270.4L344.3 273.0L345.0 276.2L345.6 278.2L344.4 280.6L343.8 283.1L341.7 283.5L341.5 280.9L339.7 280.6L338.9 279.0L337.6 276.7L334.6 276.9Z" fill="#ffffd4"/>
<path d="M328.9 274.2L327.3 272.8L326.2 271.5L325.0 270.5L328.5 269.7L331.9 269.7L331.9 272.2L329.6 272.8Z" fill="#ffffd4"/>
<path d="M325.0 270.5L324.8 268.7L327.1 268.5L329.0 267.9L331.7 268.1L331.7 267.3L328.8 266.6L327.8 267.3L325.3 267.3L325.0 266.5L324.2 264.9L323.3 264.3L324.5 262.6L325.7 260.8L326.1 260.0L328.0 259.6L330.5 259.3L332.5 260.7L333.8 262.6L335.4 264.3L335.9 266.5L337.2 269.0L337.2 270.4L334.9 270.5L331.9 269.7L328.5 269.7Z" fill="#ffffd4"/>
<path d="M324.8 268.7L325.3 267.3L327.8 267.3L328.8 266.6L331.7 267.3L331.7 268.1L329.0 267.9L327.1 268.5Z" fill="url(#hatchm)" stroke="#b8b8b8" stroke-width="0.4"/>
<path d="M325.7 260.8L326.2 257.1L326.8 255.5L326.5 252.4L325.9 252.1L326.6 250.0L325.1 247.9L324.7 248.5L325.0 247.1L333.7 247.1L334.0 242.7L336.3 241.5L336.4 234.9L343.9 234.9L343.9 231.5L352.5 237.5L348.7 237.5L349.7 250.6L350.5 259.7L351.1 260.2L350.7 262.3L342.0 262.3L341.2 262.6L338.4 263.4L337.1 262.1L335.4 264.3L333.8 262.6L332.5 260.7L330.5 259.3L328.0 259.6L326.1 260.0Z" fill="url(#hatchm)" stroke="#b8b8b8" stroke-width="0.4"/>
<path d="M324.7 248.5L324.9 246.9L325.2 244.8L326.6 242.7L327.5 240.6L329.6 238.5L330.1 236.5L330.8 234.6L332.9 233.1L333.9 230.5L344.0 230.5L343.9 231.5L343.9 234.9L336.4 234.9L336.3 241.5L334.0 242.7L333.7 247.1L325.0 247.1Z" fill="url(#hatchm)" stroke="#b8b8b8" stroke-width="0.4"/>
<path d="M335.4 264.3L337.1 262.1L338.4 263.4L341.2 262.6L342.0 262.3L350.7 262.3L351.1 260.2L350.5 259.7L349.7 250.6L348.7 237.5L352.5 237.5L365.9 247.7L367.4 249.8L370.6 251.1L370.8 253.2L372.9 252.8L372.9 260.0L371.3 262.7L366.3 262.8L363.8 263.6L361.0 263.6L358.7 265.7L356.7 266.2L355.7 268.1L354.1 267.8L353.2 271.2L351.1 273.0L350.6 275.6L349.1 275.2L345.0 276.2L344.3 273.0L342.7 270.4L341.1 271.3L338.8 271.5L337.2 270.4L337.2 269.0L335.9 266.5Z" fill="#ffffd4"/>
<path d="M357.0 278.0L352.5 277.5L350.6 275.6L351.1 273.0L353.2 271.2L354.1 267.8L355.7 268.1L356.7 266.2L358.7 265.7L361.0 263.6L363.8 263.6L364.2 266.2L365.6 267.8L365.6 269.4L368.1 269.6L368.8 271.7L366.5 272.9L365.4 274.1L363.0 273.8L356.8 274.1Z" fill="#ffffd4"/>
<path d="M371.6 272.2L368.8 271.7L368.1 269.6L365.6 269.4L365.6 267.8L364.2 266.2L363.8 263.6L366.3 262.8L371.3 262.7L372.9 260.0L372.9 252.8L376.5 252.0L380.3 248.3L390.3 241.4L395.3 243.6L397.1 242.7L397.7 246.6L398.5 248.2L399.0 250.6L398.6 258.7L396.2 261.7L394.2 265.2L394.4 267.0L391.9 268.6L387.8 267.8L383.9 269.2L381.2 267.9L379.1 268.8L375.9 266.5L372.7 267.5L371.7 270.1Z" fill="#ffffd4"/>
<path d="M394.4 267.0L394.2 265.2L396.2 261.7L398.6 258.7L399.0 250.6L398.5 248.2L397.7 246.6L397.1 242.7L417.7 251.9L418.1 261.8L415.6 262.2L414.8 266.0L413.3 269.6L414.2 269.6L415.8 274.3L413.1 275.2L410.2 279.0L407.0 279.4L404.7 281.9L402.0 283.1L399.0 283.2L397.3 279.8L395.3 277.7L395.9 276.8L398.9 276.7L397.8 274.6L397.8 272.8L397.2 270.1L395.5 268.6Z" fill="url(#hatchm)" stroke="#b8b8b8" stroke-width="0.4"/>
<path d="M400.7 297.1L400.0 294.2L397.9 291.3L396.7 289.0L396.9 286.6L399.0 283.2L402.0 283.1L404.7 281.9L407.0 279.4L410.2 279.0L413.1 275.2L415.8 274.3L417.5 276.9L417.3 279.3L418.9 280.1L419.7 282.2L421.3 283.7L424.1 285.8L426.5 289.6L422.0 289.0L419.5 289.5L416.1 290.4L414.9 292.1L410.8 291.3L408.2 289.5L406.2 291.3L406.3 293.7L403.6 293.3L401.3 294.4Z" fill="url(#hatchm)" stroke="#b8b8b8" stroke-width="0.4"/>
<path d="M416.5 348.8L413.5 345.1L413.7 336.8L418.3 336.8L418.3 331.3L419.3 332.6L421.3 332.3L422.9 333.9L425.2 333.6L426.3 334.8L428.4 335.5L429.7 337.8L431.5 337.9L431.6 334.5L429.9 335.2L428.3 333.9L428.9 330.7L429.1 328.4L428.6 327.0L429.8 325.0L434.0 324.2L434.6 325.3L436.8 326.6L439.0 327.4L439.1 327.9L439.7 331.0L440.1 333.1L438.9 335.7L438.1 338.3L439.3 339.4L432.3 341.9L432.7 343.6L429.2 344.6L426.1 348.0L424.7 349.7L422.1 349.7L420.8 349.3L419.1 348.5Z" fill="#fee391"/>
<path d="M408.2 367.5L408.5 360.3L410.7 360.3L411.0 350.6L416.3 349.8L417.9 350.1L420.8 349.3L422.7 353.7L426.0 356.3L426.6 359.2L429.6 360.8L427.1 361.8L424.1 364.6L423.7 366.1L421.5 367.4L420.5 369.9L417.8 370.1L414.9 368.9L412.5 371.8L409.6 372.9Z" fill="#fe9929"/>
<path d="M429.6 360.8L426.6 359.2L426.0 356.3L422.7 353.7L420.8 349.3L422.1 349.7L424.7 349.7L426.1 348.0L429.2 344.6L432.7 343.6L434.7 344.6L438.3 346.4L438.3 348.0L437.6 351.1L438.2 354.5L436.9 356.6L436.8 358.4L433.9 361.4L431.0 360.9Z" fill="#fee391"/>
<path d="M434.9 370.6L435.0 372.9L434.6 374.1L432.9 374.1L432.1 372.8L432.2 371.5L433.7 370.0Z" fill="url(#hatchm)" stroke="#b8b8b8" stroke-width="0.4"/>
<path d="M423.2 380.1L424.9 378.3L427.1 377.5L428.4 378.8L428.5 380.6L426.1 382.7L423.9 381.9Z" fill="url(#hatchm)" stroke="#b8b8b8" stroke-width="0.4"/>
<path d="M439.3 339.4L438.1 338.3L438.9 335.7L440.1 333.1L439.7 331.0L439.1 327.9L439.0 327.4L441.4 327.6L442.7 330.5L443.3 333.0L442.7 335.7L442.9 338.1L444.5 340.2L445.1 343.0L444.9 345.4L443.7 347.5L441.7 345.4L441.4 344.3L442.3 342.8L441.8 340.4Z" fill="#ffffd4"/>
<path d="M433.8 309.1L434.3 311.4L432.9 313.5L431.1 314.4L430.7 312.2L430.2 310.0L432.3 309.9Z" fill="#ffffd4"/>
<path d="M433.6 305.6L434.5 307.1L433.8 309.1L432.3 309.9L430.2 310.0L430.7 307.2L431.5 306.4Z" fill="#ffffd4"/>
<path d="M433.6 305.6L431.5 306.4L431.6 304.1L432.4 300.7L434.6 297.8L435.5 297.2L434.5 293.7L436.9 293.4L439.4 292.6L441.6 291.8L442.9 294.7L444.0 297.8L442.9 299.9L441.6 302.3L441.6 305.4Z" fill="url(#hatchm)" stroke="#b8b8b8" stroke-width="0.4"/>
<path d="M441.6 291.8L439.4 292.6L436.9 293.4L434.5 293.7L432.9 292.6L431.3 290.8L428.8 291.6L426.5 289.6L424.1 285.8L421.3 283.7L419.7 282.2L418.9 280.1L420.3 277.2L420.9 275.9L424.4 278.0L427.6 278.4L431.1 277.2L434.1 277.3L436.3 275.4L436.7 271.5L438.3 271.5L439.4 270.9L439.3 274.9L441.1 276.2L441.6 278.0L441.7 280.3L439.7 281.6L439.2 282.4L443.2 285.3L444.6 288.7L446.1 290.7L444.7 290.8Z" fill="#ffffd4"/>
<path d="M459.9 292.4L457.3 291.8L454.4 293.8L451.1 293.4L448.2 291.2L446.4 291.2L446.1 290.7L444.6 288.7L443.2 285.3L439.2 282.4L439.7 281.6L441.7 280.3L441.6 278.0L442.0 275.4L443.5 274.3L443.8 272.0L446.0 269.6L446.9 265.6L448.1 265.2L449.9 264.0L451.3 265.1L454.7 265.1L457.1 267.5L460.4 270.2L459.1 272.8L459.2 274.1L461.9 274.1L461.2 275.1L462.1 277.7L464.4 279.4L473.7 281.9L467.0 289.9L464.7 289.9L462.2 291.6Z" fill="#ffffd4"/>
<path d="M476.3 334.1L478.2 338.1L478.6 343.0L476.7 343.5L476.9 345.9L475.7 349.3L473.9 355.0L471.4 361.6L469.1 367.8L464.6 369.7L462.1 368.1L461.0 361.6L461.7 358.4L463.9 355.0L463.3 351.1L463.5 347.2L465.7 345.1L469.0 343.8L471.1 341.5L473.1 339.4L475.0 337.5Z" fill="url(#hatchm)" stroke="#b8b8b8" stroke-width="0.4"/>
<path d="M438.8 221.0L439.3 220.3L439.7 219.1L440.0 217.1L440.2 216.3L441.3 215.9L442.0 216.6L441.8 217.3L441.4 218.2L440.6 217.9L440.3 218.7L440.3 220.3L440.9 220.9L441.4 220.5L441.6 219.9L441.5 221.8L440.9 225.7L440.7 225.7Z" fill="#ec7014"/>
<path d="M440.2 216.3L440.9 214.3L441.5 212.8L441.6 212.3L442.7 212.4L443.2 213.5L442.0 215.0L441.8 215.6L441.3 215.9Z" fill="#ffffd4"/>
<path d="M441.6 212.3L441.0 210.1L441.1 209.0L441.7 209.2L442.1 208.2L442.6 208.0L442.2 206.7L443.4 207.1L445.3 206.6L447.5 206.9L451.0 205.9L454.6 205.9L452.6 207.7L452.7 212.9L448.2 215.6L444.2 218.4L441.8 217.3L442.0 216.6L441.3 215.9L441.8 215.6L442.0 215.0L443.2 213.5L442.7 212.4Z" fill="url(#hatchm)" stroke="#b8b8b8" stroke-width="0.4"/>
<path d="M441.1 209.0L441.5 207.2L440.2 207.2L438.0 206.7L436.3 208.4L434.3 208.7L432.5 207.3L429.6 206.6L429.3 208.0L427.4 208.2L426.1 206.9L424.4 206.7L422.5 206.9L422.4 206.2L421.8 204.3L419.7 202.8L420.9 202.4L420.6 201.0L420.6 199.7L418.9 199.7L419.0 198.5L420.0 197.5L421.7 197.6L422.7 197.3L424.8 197.3L426.6 196.4L424.9 195.9L424.9 195.3L427.1 195.3L429.6 195.0L431.3 193.7L433.4 193.2L437.2 193.1L439.2 194.0L440.2 195.0L442.6 195.5L444.6 195.9L447.3 195.8L449.9 194.9L451.0 194.4L453.6 194.3L455.2 195.5L455.6 195.9L456.1 198.1L457.7 198.4L458.7 199.1L457.2 199.9L458.0 202.5L458.9 204.1L459.8 205.8L458.1 205.4L455.9 205.3L454.6 205.9L451.0 205.9L447.5 206.9L445.3 206.6L443.4 207.1L442.2 206.7L442.6 208.0L442.1 208.2L441.7 209.2Z" fill="#ec7014"/>
<path d="M451.0 194.4L450.9 192.8L449.1 190.6L446.8 189.6L452.1 190.1L455.4 191.6L457.4 191.4L459.2 192.0L461.1 193.4L461.6 195.5L458.3 195.0L455.2 195.5L453.6 194.3Z" fill="#ffffd4"/>
<path d="M446.8 189.6L446.1 189.1L444.4 187.8L441.6 186.2L439.1 185.1L440.3 184.5L440.6 182.9L441.7 181.1L443.5 180.1L441.3 180.1L443.9 178.2L443.8 173.7L439.4 173.0L438.2 171.9L434.4 171.7L433.0 169.7L431.3 168.3L428.6 166.8L426.0 167.4L425.5 164.9L427.1 164.1L422.7 160.7L422.5 158.7L417.0 157.4L415.6 154.6L414.8 154.0L414.8 152.2L414.5 150.7L415.2 149.3L415.9 148.5L417.1 148.1L416.0 147.1L414.3 146.7L419.8 141.2L416.6 139.2L417.4 138.4L415.2 136.4L415.7 134.7L413.3 132.0L414.2 130.2L411.3 128.4L411.8 127.2L413.4 125.9L414.6 125.6L416.4 125.3L419.2 126.4L421.9 126.9L425.6 128.0L430.2 129.3L433.4 131.1L434.0 132.2L432.4 133.4L430.0 133.8L425.5 133.1L423.6 132.7L419.0 131.6L421.1 132.9L424.0 135.2L424.6 137.5L428.0 138.6L430.7 138.9L428.9 137.7L427.9 136.0L430.9 136.8L434.6 137.4L433.0 135.2L435.8 133.1L440.0 134.0L438.4 131.8L436.7 128.4L436.2 128.1L441.1 128.9L442.4 130.0L440.0 130.4L439.5 131.3L443.2 132.1L444.8 130.4L446.2 129.8L451.0 128.4L453.8 128.9L454.0 127.5L459.4 128.2L462.4 127.5L463.8 125.4L465.4 126.9L471.7 127.8L474.1 127.5L479.3 129.1L479.7 128.6L475.7 126.0L473.1 123.6L472.7 121.7L473.2 119.5L475.0 118.6L478.1 118.9L480.0 119.3L481.3 121.9L483.3 124.0L484.8 126.9L487.6 128.9L487.7 131.8L489.4 130.7L489.0 128.4L486.8 126.9L485.7 124.0L483.7 121.9L484.1 120.2L484.1 119.1L487.8 119.8L489.8 120.2L493.5 120.8L496.4 121.5L500.1 124.0L499.9 122.5L497.2 120.4L492.2 117.9L491.0 117.7L495.8 116.8L498.4 114.6L501.9 113.4L507.0 112.4L512.4 111.8L515.5 110.6L518.7 109.2L522.8 109.8L526.8 111.2L532.1 111.2L537.0 112.6L538.8 114.0L535.8 116.0L535.8 116.6L533.7 118.3L532.5 118.7L537.3 117.2L542.0 117.2L543.8 118.1L550.4 117.7L553.8 118.5L557.8 117.2L560.2 117.2L564.7 117.7L569.5 118.9L573.0 121.0L577.3 123.2L579.8 121.9L583.6 121.7L587.7 122.3L590.4 121.9L588.5 119.0L592.4 120.4L596.6 120.0L601.7 120.2L608.3 121.9L614.2 123.2L620.1 122.7L627.6 124.5L631.5 126.0L633.7 125.8L638.2 126.0L642.2 125.3L647.6 127.3L645.8 124.9L650.6 125.4L655.8 125.6L661.3 126.4L665.3 127.4L678.5 136.1L677.5 137.2L675.4 137.0L673.3 136.8L676.4 137.9L679.8 138.9L684.2 141.0L686.0 142.6L681.6 142.1L679.3 143.8L678.1 145.7L677.4 148.3L671.4 146.9L670.1 148.1L667.5 148.5L666.2 149.7L669.3 152.9L668.0 153.4L675.0 157.5L672.5 157.5L675.0 160.2L676.5 160.8L674.1 162.7L675.7 164.7L674.1 165.2L675.7 167.7L675.1 170.4L671.2 167.7L665.6 162.7L660.8 157.8L658.8 154.1L659.5 151.7L658.7 148.5L660.5 147.1L659.4 144.5L659.1 142.1L657.0 142.6L654.2 144.0L649.7 144.0L648.7 145.2L651.1 150.0L647.6 150.2L643.4 149.7L638.5 149.5L632.9 149.5L628.8 149.6L627.5 153.4L626.3 156.7L628.1 161.2L624.6 161.0L630.4 162.7L632.8 163.2L635.3 162.7L637.6 164.7L641.9 167.2L643.0 168.9L645.5 172.7L646.2 175.2L646.7 179.6L646.4 182.1L645.9 186.0L645.0 189.3L642.3 191.1L639.1 190.3L637.4 189.6L637.8 192.4L637.5 192.1L637.0 189.3L634.4 185.7L635.3 184.7L638.4 185.2L636.3 179.3L636.0 176.9L632.7 178.5L629.7 178.5L628.5 177.8L625.6 175.5L619.0 173.2L618.3 172.2L609.2 165.1L604.3 163.8L599.5 164.4L599.0 166.2L601.0 168.7L601.8 172.5L600.0 174.0L597.3 173.1L592.2 172.1L590.2 173.7L586.3 174.9L581.6 174.5L577.6 172.8L573.0 171.7L567.3 171.2L566.0 169.4L558.5 167.4L559.4 171.4L558.5 173.3L551.4 171.3L546.6 170.9L543.0 173.0L540.1 174.8L539.2 175.0L534.4 173.7L529.1 170.2L522.6 170.7L515.5 164.4L512.2 161.7L511.5 161.9L506.4 162.6L506.0 162.9L501.5 162.4L499.4 159.5L495.8 159.3L494.8 160.3L489.6 161.8L483.7 162.7L482.6 163.7L482.8 165.3L481.7 167.7L485.5 169.4L485.6 170.7L482.0 171.3L479.8 170.1L474.4 171.2L471.9 170.2L469.1 168.9L463.8 168.4L460.6 171.2L460.3 173.1L457.1 173.0L457.9 174.7L457.8 176.5L459.6 178.3L462.5 181.1L464.2 181.9L462.0 183.1L461.7 183.7L460.3 184.7L460.2 186.7L462.1 188.0L462.7 190.7L464.9 193.1L465.6 193.6L464.3 195.3L461.1 193.4L459.2 192.0L457.4 191.4L455.4 191.6L452.1 190.1Z" fill="#ec7014"/>
<path d="M441.3 180.1L439.9 180.2L438.6 181.0L435.7 182.1L434.8 182.9L436.6 184.7L438.6 184.4L438.5 185.3L436.5 185.4L434.2 186.7L432.5 186.5L432.5 185.2L430.4 184.5L432.4 182.9L430.1 182.6L428.6 181.4L426.3 181.6L425.4 183.3L424.5 184.8L421.5 184.3L422.8 182.9L425.0 181.9L424.4 180.8L422.6 178.0L420.7 177.4L418.9 176.6L417.2 177.1L413.9 178.5L409.8 177.8L408.1 176.8L408.8 175.0L408.9 173.7L410.6 171.7L411.3 170.6L410.0 168.9L412.7 167.9L417.1 168.7L420.7 168.7L423.8 169.4L426.0 167.4L428.6 166.8L431.3 168.3L433.0 169.7L434.4 171.7L438.2 171.9L439.4 173.0L443.8 173.7L443.9 178.2Z" fill="url(#hatchm)" stroke="#b8b8b8" stroke-width="0.4"/>
<path d="M424.5 184.8L424.6 186.0L422.8 187.6L422.8 188.7L419.4 187.6L416.5 188.9L413.7 188.8L411.0 188.4L410.4 187.5L409.8 186.2L407.6 186.0L407.8 184.9L404.9 182.6L406.9 181.4L408.1 179.1L409.8 177.8L413.9 178.5L417.2 177.1L418.1 178.0L419.6 179.6L420.7 180.6L421.3 182.9L421.5 184.3Z" fill="#fec44f"/>
<path d="M422.8 188.7L422.7 189.6L421.6 190.1L421.8 191.4L421.0 191.9L422.3 193.2L420.7 192.9L418.9 193.9L418.4 194.9L416.8 195.1L414.6 194.3L411.8 194.9L410.3 192.4L410.4 191.0L411.4 190.1L409.9 188.5L410.4 187.5L411.0 188.4L413.7 188.8L416.5 188.9L419.4 187.6Z" fill="#ec7014"/>
<path d="M422.3 193.2L422.6 194.2L424.6 195.1L424.5 195.8L422.5 195.8L421.5 195.9L420.5 196.8L418.9 198.1L420.1 196.7L418.5 196.5L419.0 195.9L419.5 194.9L418.9 193.9L420.7 192.9Z" fill="#ec7014"/>
<path d="M418.5 196.5L418.1 196.2L416.2 195.9L414.9 196.0L414.0 197.1L415.2 198.0L414.1 197.5L414.2 198.5L413.0 197.7L413.0 198.5L411.8 196.8L411.3 197.8L412.2 200.2L413.1 201.1L412.1 201.4L413.9 202.3L414.9 203.6L415.0 204.5L414.0 203.7L413.2 204.9L412.2 204.7L413.5 207.6L411.9 207.6L411.0 206.2L410.1 206.7L409.1 204.5L409.8 202.9L408.5 202.7L407.7 201.1L406.3 199.3L405.9 199.2L407.1 198.1L407.7 196.2L409.8 195.4L411.8 194.9L414.6 194.3L416.8 195.1L418.4 194.9L418.9 193.9L419.5 194.9L419.0 195.9Z" fill="#fec44f"/>
<path d="M405.9 199.2L404.6 197.2L404.4 195.0L404.1 193.6L404.4 191.6L405.4 191.7L406.4 192.7L406.7 193.5L406.6 195.0L407.7 196.2L407.1 198.1Z" fill="#ffffd4"/>
<path d="M404.1 193.6L402.0 192.0L402.1 191.6L402.2 190.1L403.4 189.3L405.3 190.7L405.4 191.2L405.4 191.7L404.4 191.6Z" fill="#ec7014"/>
<path d="M402.0 192.0L400.3 190.9L401.7 191.4L402.1 191.6Z" fill="#ffffd4"/>
<path d="M400.3 190.9L397.5 189.3L394.9 187.5L394.1 185.4L393.1 184.7L392.0 185.8L391.3 184.2L393.4 183.8L394.9 184.3L395.6 183.3L395.4 182.4L397.3 181.7L399.5 183.0L402.2 183.1L402.5 184.5L403.4 184.9L402.7 185.8L400.5 185.1L398.2 184.8L395.8 184.9L395.9 186.0L397.0 187.5L399.4 189.6Z" fill="#fee391"/>
<path d="M391.3 184.2L391.6 183.9L391.3 183.4L390.8 182.4L391.4 181.6L393.2 181.9L395.3 181.1L396.2 180.7L397.3 181.7L395.4 182.4L395.6 183.3L394.9 184.3L393.4 183.8Z" fill="#ec7014"/>
<path d="M391.6 183.9L390.3 183.8L388.9 184.4L389.2 185.7L389.0 187.5L391.5 189.1L392.7 191.6L394.9 193.3L397.4 193.4L396.8 194.2L399.0 195.5L401.4 196.7L402.6 198.1L402.4 198.9L401.3 197.7L399.8 197.2L398.6 198.4L398.6 199.4L399.9 201.0L398.7 201.9L397.8 203.8L396.9 203.3L397.2 201.7L397.9 200.7L396.5 198.2L394.9 197.6L393.9 196.7L393.5 196.2L392.0 195.1L389.9 194.6L389.0 193.7L386.6 192.1L385.3 190.7L384.8 189.2L383.8 187.9L381.8 187.0L380.2 188.3L379.0 188.6L379.3 187.6L377.6 187.0L377.9 185.1L377.3 185.1L377.8 183.1L379.4 183.1L380.6 181.9L381.8 183.3L382.4 181.7L384.0 182.2L384.7 180.7L385.8 180.9L388.2 180.2L388.8 181.1L391.4 181.6L390.8 182.4L391.3 183.4Z" fill="#ffffd4"/>
<path d="M379.0 188.6L378.5 188.8L377.1 190.2L374.6 190.0L373.3 189.7L371.6 189.3L369.8 190.3L369.7 191.9L370.0 192.1L367.5 192.3L367.0 191.9L366.3 191.6L364.8 191.1L361.7 190.7L360.4 190.5L359.6 189.6L360.2 189.2L360.7 186.3L360.9 184.0L360.8 182.5L359.6 181.6L358.9 179.7L357.6 179.1L356.4 178.5L354.5 178.3L353.6 176.8L355.3 176.0L357.2 175.7L359.3 176.1L360.2 176.1L359.5 173.5L360.7 173.5L361.1 174.4L363.5 174.0L365.5 172.8L366.4 170.9L367.0 170.3L368.4 170.0L369.1 170.9L369.9 171.4L371.7 171.9L371.6 172.8L372.9 173.2L373.0 172.7L375.0 173.9L376.1 174.0L378.6 175.1L379.8 175.3L378.7 177.5L378.7 178.8L377.5 179.6L375.8 181.5L375.6 182.4L376.0 182.1L377.3 181.9L377.8 183.1L377.3 185.1L377.9 185.1L377.6 187.0L379.3 187.6Z" fill="#ffffd4"/>
<path d="M370.0 192.1L370.2 192.4L370.0 193.4L367.9 194.9L365.4 195.8L364.8 196.8L362.7 199.7L363.7 201.6L362.2 202.8L361.7 204.6L359.2 206.3L358.5 206.9L355.7 206.9L353.8 206.9L351.7 208.4L351.2 208.8L349.7 207.5L349.5 206.4L347.4 205.7L347.2 204.7L348.3 203.0L347.7 202.4L348.3 201.0L347.3 199.3L348.6 199.1L348.6 197.8L348.9 195.8L350.2 194.2L349.4 193.3L346.2 193.7L346.1 192.9L344.6 193.5L344.6 191.9L343.9 190.6L346.0 189.3L347.3 188.7L348.7 189.2L351.4 189.1L355.4 189.4L357.0 189.7L359.6 189.6L360.4 190.5L361.7 190.7L364.8 191.1L366.3 191.6L367.0 191.9L367.5 192.3Z" fill="#ffffd4"/>
<path d="M347.4 205.7L346.3 206.2L344.0 206.2L344.4 202.5L343.0 201.6L343.5 199.9L344.5 197.8L345.0 195.4L344.6 193.5L346.1 192.9L346.2 193.7L349.4 193.3L350.2 194.2L348.9 195.8L348.6 197.8L348.6 199.1L347.3 199.3L348.3 201.0L347.7 202.4L348.3 203.0L347.2 204.7Z" fill="#ffffd4"/>
<path d="M368.4 170.0L370.0 169.3L371.7 169.3L373.0 169.1L373.4 169.4L374.9 169.8L374.7 170.8L375.3 170.8L376.1 171.8L375.6 172.4L374.8 172.7L375.0 173.9L373.0 172.7L372.9 173.2L371.6 172.8L371.7 171.9L369.9 171.4L369.1 170.9Z" fill="#ffffd4"/>
<path d="M370.0 169.3L370.2 169.1L371.2 167.8L372.2 166.6L372.6 165.3L373.9 164.6L375.4 164.2L377.0 164.4L377.4 164.6L377.1 166.1L376.5 166.2L377.2 167.1L376.7 167.8L375.2 168.2L375.4 169.7L375.3 170.8L374.7 170.8L374.9 169.8L373.4 169.4L373.0 169.1L371.7 169.3Z" fill="#fe9929"/>
<path d="M377.4 164.6L378.9 163.4L379.9 163.8L380.2 162.9L380.8 162.7L380.4 161.9L380.0 160.4L381.5 160.6L382.6 161.4L384.6 161.7L384.5 162.7L385.6 162.7L386.8 162.3L387.5 161.6L389.8 161.2L390.1 162.4L391.0 162.9L391.4 164.4L391.0 165.6L392.1 166.3L392.4 167.6L392.2 168.2L393.1 169.4L392.8 170.5L391.7 170.1L389.2 171.6L387.9 172.1L387.5 171.9L388.4 173.0L389.5 174.5L391.2 175.8L390.4 176.8L389.2 177.5L389.9 179.1L388.1 178.7L384.6 178.9L383.9 179.4L382.7 179.0L380.8 178.7L380.7 178.3L378.7 178.8L378.7 177.5L379.8 175.3L378.6 175.1L376.1 174.0L376.3 173.2L375.6 172.4L376.1 171.8L375.3 170.8L375.4 169.7L375.2 168.2L376.7 167.8L377.2 167.1L376.5 166.2L377.1 166.1Z" fill="#ec7014"/>
<path d="M380.0 160.4L378.8 158.9L378.8 156.5L379.6 155.1L382.0 153.9L383.2 153.5L383.2 154.8L382.9 156.3L384.1 156.8L382.8 157.5L382.3 159.0L381.6 159.7L381.5 160.6Z" fill="#fee391"/>
<path d="M391.0 162.9L393.4 162.3L395.2 161.4L397.8 160.7L399.0 160.8L399.4 161.7L400.9 161.8L401.3 161.6L407.5 161.8L409.0 162.8L410.2 165.9L409.0 166.9L409.8 167.4L410.0 168.9L411.3 170.6L410.6 171.7L408.9 173.7L408.8 175.0L405.5 174.2L403.7 174.5L403.2 174.7L402.4 173.7L401.2 173.9L399.3 172.6L398.5 171.9L396.8 172.3L397.0 171.6L395.9 171.4L395.6 171.1L393.7 170.3L392.8 170.5L393.1 169.4L392.2 168.2L392.4 167.6L392.1 166.3L391.0 165.6L391.4 164.4Z" fill="#cc4c02"/>
<path d="M401.3 161.6L401.8 160.3L402.8 160.2L403.9 159.5L406.8 160.1L407.4 160.5L407.5 161.8Z" fill="#ec7014"/>
<path d="M403.9 159.5L403.7 158.5L403.5 157.6L405.2 156.8L409.2 157.1L410.9 156.8L414.3 158.5L414.8 159.5L413.0 160.5L413.1 161.9L412.8 162.3L410.7 162.9L409.0 162.8L407.5 161.8L407.4 160.5L406.8 160.1Z" fill="#ffffd4"/>
<path d="M403.5 157.6L403.2 156.5L404.0 154.3L405.8 153.5L407.1 154.5L408.9 155.2L409.4 154.6L409.1 153.2L410.8 152.9L412.2 153.2L414.8 154.0L415.6 154.6L417.0 157.4L414.3 158.5L410.9 156.8L409.2 157.1L405.2 156.8Z" fill="#ffffd4"/>
<path d="M409.1 153.2L409.1 152.0L407.2 151.4L406.7 150.0L409.1 149.4L411.4 149.0L414.1 149.4L415.2 149.3L414.5 150.7L414.8 152.2L414.8 154.0L412.2 153.2L410.8 152.9Z" fill="#ffffd4"/>
<path d="M414.3 146.7L412.7 147.0L409.3 147.7L405.7 148.4L404.1 147.1L402.2 145.9L402.3 144.4L401.6 142.4L401.4 140.8L403.7 138.9L406.4 137.0L407.8 136.3L407.4 135.2L405.3 134.5L404.2 133.4L404.6 132.2L403.7 131.1L403.0 129.5L399.8 128.6L397.7 127.2L399.4 126.7L401.0 128.0L403.2 128.0L405.4 128.1L406.6 127.3L406.6 125.8L409.5 124.9L412.3 126.7L411.8 127.2L411.3 128.4L414.2 130.2L413.3 132.0L415.7 134.7L415.2 136.4L417.4 138.4L416.6 139.2L419.8 141.2Z" fill="#ffffd4"/>
<path d="M405.3 134.5L401.9 135.0L400.9 136.6L400.4 137.9L399.3 139.1L397.1 140.5L395.5 142.1L394.4 142.4L394.3 144.0L394.8 146.4L397.5 147.6L398.2 148.5L396.9 149.7L395.0 151.2L394.7 153.1L394.4 156.0L393.8 157.4L393.1 157.4L390.7 158.9L390.6 159.2L388.6 159.3L388.0 158.7L387.6 157.6L387.1 156.8L387.8 156.2L385.9 154.3L385.7 153.6L384.4 151.9L384.2 150.2L385.2 149.7L385.3 148.5L386.3 147.3L385.7 145.7L386.8 144.7L385.3 144.0L385.5 142.6L384.9 141.0L385.8 138.6L387.9 138.2L388.1 137.5L387.4 137.2L388.6 135.6L388.6 133.8L390.1 133.4L391.4 131.3L390.8 130.7L392.6 129.3L393.9 128.4L396.9 128.8L397.3 127.2L397.7 127.2L399.8 128.6L403.0 129.5L403.7 131.1L404.6 132.2L404.2 133.4Z" fill="#ffffd4"/>
<path d="M384.2 150.2L382.9 149.5L383.0 148.3L382.4 149.7L381.3 150.5L379.8 151.9L378.3 152.6L376.5 152.9L373.8 151.4L373.7 150.5L372.9 149.5L373.0 147.1L372.4 145.7L372.4 143.8L372.5 142.8L374.5 142.1L376.2 141.0L378.6 139.8L380.7 139.3L382.2 137.5L383.1 136.6L384.6 135.2L385.2 134.0L385.7 132.9L387.9 131.1L388.7 129.5L390.3 128.6L391.0 127.8L392.5 126.2L394.9 125.8L397.2 124.9L399.6 124.5L402.3 123.7L405.5 122.6L408.6 122.7L410.2 123.6L412.6 123.7L414.6 124.2L411.3 124.9L414.6 125.6L413.4 125.9L411.8 127.2L412.3 126.7L409.5 124.9L406.6 125.8L406.6 127.3L405.4 128.1L403.2 128.0L401.0 128.0L399.4 126.7L397.7 127.2L397.3 127.2L396.9 128.8L393.9 128.4L392.6 129.3L390.8 130.7L391.4 131.3L390.1 133.4L388.6 133.8L388.6 135.6L387.4 137.2L388.1 137.5L387.9 138.2L385.8 138.6L384.9 141.0L385.5 142.6L385.3 144.0L386.8 144.7L385.7 145.7L386.3 147.3L385.3 148.5L385.2 149.7Z" fill="#ffffd4"/>
<path d="M637.8 192.4L637.0 194.2L638.0 196.3L636.1 198.4L634.7 198.9L635.3 200.4L638.1 201.9L635.8 202.8L635.6 204.1L634.4 204.3L632.7 204.3L631.8 203.8L630.8 202.3L631.2 201.7L629.9 199.5L627.8 198.5L630.0 196.0L630.6 193.7L633.7 194.7L632.6 193.2L635.5 192.0L635.1 190.6L637.5 192.1Z" fill="url(#hatchm)" stroke="#b8b8b8" stroke-width="0.4"/>
<path d="M638.1 201.9L640.9 204.9L643.7 208.6L644.2 210.6L643.8 211.1L641.9 211.8L640.6 212.4L639.2 213.1L638.2 211.9L637.8 209.8L636.6 207.2L635.6 206.7L636.6 206.2L635.7 204.9L634.4 204.3L635.6 204.1L635.8 202.8Z" fill="#cc4c02"/>
<path d="M627.8 198.5L625.4 199.4L622.6 201.6L622.6 199.9L622.3 196.7L619.5 196.2L618.1 198.5L615.0 201.0L616.5 203.3L619.6 205.4L620.9 205.8L622.7 204.1L627.2 205.1L626.5 206.4L623.8 208.6L623.1 212.0L625.8 213.5L628.3 216.6L631.3 219.2L631.9 220.3L632.5 222.1L630.6 223.7L633.2 224.7L634.1 227.1L633.8 228.9L632.4 230.2L631.6 233.1L631.2 235.1L630.2 237.5L628.7 238.8L626.2 241.8L623.8 243.5L621.0 244.6L619.5 244.8L616.4 246.1L613.0 247.4L612.9 249.9L611.5 248.2L611.0 246.6L609.9 246.8L607.4 246.5L603.9 245.3L603.9 243.1L600.6 241.9L597.9 243.9L595.7 244.2L593.8 244.3L593.0 244.2L593.4 247.6L591.9 246.5L589.5 246.6L587.2 244.9L586.1 242.2L582.8 240.2L582.5 238.0L584.4 235.1L583.5 230.7L580.1 229.1L576.6 226.0L572.5 226.8L569.5 230.1L567.6 230.3L567.4 229.8L562.9 229.3L561.8 231.4L561.1 229.5L559.7 230.0L554.9 229.7L550.1 226.8L545.0 223.5L542.7 223.9L537.0 221.0L537.2 217.9L535.4 215.0L535.3 212.9L532.2 210.1L529.9 209.7L527.3 207.2L524.1 206.1L524.6 205.6L523.8 202.4L521.3 202.0L520.3 199.8L520.6 198.7L522.0 197.2L524.5 197.6L526.0 195.8L529.0 194.7L532.0 192.7L532.2 190.2L529.5 185.3L532.9 184.0L532.6 179.8L537.9 180.2L537.0 176.8L538.5 175.7L539.2 175.0L540.1 174.8L541.2 176.3L546.1 178.0L549.6 181.4L551.0 184.9L556.7 185.6L561.4 187.2L565.3 191.2L573.0 191.5L576.9 191.9L584.7 194.2L588.9 192.0L593.9 191.5L596.6 188.8L594.5 187.0L598.6 186.1L600.5 184.4L602.5 182.1L608.7 181.1L602.9 178.0L598.1 178.0L597.4 175.6L597.3 173.1L600.0 174.0L601.8 172.5L601.0 168.7L599.0 166.2L599.5 164.4L604.3 163.8L609.2 165.1L618.3 172.2L619.0 173.2L625.6 175.5L628.5 177.8L629.7 178.5L632.7 178.5L636.0 176.9L636.3 179.3L638.4 185.2L635.3 184.7L634.4 185.7L637.0 189.3L637.5 192.1L635.1 190.6L635.5 192.0L632.6 193.2L633.7 194.7L630.6 193.7L630.0 196.0Z" fill="#cc4c02"/>
<path d="M607.4 246.5L604.7 248.3L604.8 250.0L603.6 252.4L603.4 254.0L605.6 256.6L607.2 258.4L610.1 260.7L612.3 263.6L613.3 266.8L614.0 269.1L613.6 271.7L612.7 273.5L609.2 275.8L608.4 277.7L605.8 279.4L604.1 280.3L604.3 278.0L604.7 276.7L603.1 275.6L604.5 274.2L607.0 274.6L606.1 272.6L607.3 272.2L609.9 270.7L609.1 264.4L608.3 260.9L606.0 258.4L602.3 254.0L599.3 251.3L600.1 248.9L596.4 248.2L595.8 246.4L593.8 244.3L595.7 244.2L597.9 243.9L600.6 241.9L603.9 243.1L603.9 245.3Z" fill="#ec7014"/>
<path d="M603.1 275.6L600.9 275.1L599.6 273.3L599.3 272.4L597.9 270.3L597.6 267.3L598.8 265.6L603.8 265.3L604.7 265.3L605.6 265.3L609.1 264.4L609.9 270.7L607.3 272.2L606.1 272.6L607.0 274.6L604.5 274.2Z" fill="#fe9929"/>
<path d="M599.3 272.4L597.5 270.9L594.4 269.8L594.4 267.8L593.3 267.5L592.2 268.1L592.3 270.1L592.1 272.0L591.0 275.4L591.7 278.9L593.2 280.6L594.8 284.0L596.9 284.9L598.4 286.5L596.2 288.0L593.8 286.0L592.8 284.8L591.8 282.9L589.4 282.4L589.3 280.6L589.0 278.8L589.6 276.7L590.0 275.6L591.8 272.0L590.6 269.9L590.2 267.0L587.6 263.1L588.1 260.2L584.6 254.5L585.5 251.2L587.7 251.1L590.0 249.6L591.4 251.9L592.9 251.7L593.4 257.1L595.4 255.3L597.9 255.0L599.7 255.0L601.7 257.2L602.1 260.0L604.2 261.9L604.7 265.3L603.8 265.3L598.8 265.6L597.6 267.3L597.9 270.3Z" fill="#fec44f"/>
<path d="M598.4 286.5L600.9 288.8L601.8 291.8L601.6 292.9L603.0 296.5L603.8 299.2L602.1 299.5L599.2 297.1L596.9 295.0L595.4 292.4L594.5 288.7L594.0 286.6L593.8 286.0L596.2 288.0Z" fill="#cc4c02"/>
<path d="M589.6 276.7L589.3 274.1L589.2 270.4L587.8 267.0L587.6 266.0L586.5 262.8L585.8 259.7L583.9 257.6L582.5 259.2L581.0 261.7L578.4 261.3L578.2 261.1L578.5 257.1L577.5 253.7L575.3 251.1L573.8 250.2L572.3 248.8L572.4 245.4L573.2 244.8L573.3 240.0L575.0 240.5L575.6 237.0L576.2 233.3L579.6 231.2L580.1 229.1L583.5 230.7L584.4 235.1L582.5 238.0L582.8 240.2L586.1 242.2L587.2 244.9L589.5 246.6L591.9 246.5L590.9 248.3L590.0 249.6L587.7 251.1L585.5 251.2L584.6 254.5L588.1 260.2L587.6 263.1L590.2 267.0L590.6 269.9L591.8 272.0L590.0 275.6Z" fill="#ffffd4"/>
<path d="M572.3 248.8L571.1 246.8L570.5 244.6L569.0 243.8L567.7 243.8L567.3 245.7L565.5 246.0L564.6 246.2L562.9 242.2L562.9 239.6L561.1 238.3L562.9 236.8L560.7 235.4L561.2 234.0L564.5 234.9L564.8 236.7L566.2 237.1L570.4 237.8L568.9 239.8L568.6 240.9L569.8 242.7L571.3 242.5L572.4 245.4Z" fill="#fee391"/>
<path d="M564.6 246.2L562.4 246.2L560.4 246.6L560.0 248.7L559.7 249.8L557.8 251.1L556.4 252.4L554.5 255.0L552.8 256.6L550.8 258.7L548.7 260.2L548.5 261.4L546.4 262.8L546.5 266.2L547.2 268.6L546.4 271.7L546.6 275.9L544.8 277.7L545.5 278.6L543.0 279.8L541.7 281.7L539.4 279.6L538.4 276.8L537.2 273.4L534.7 269.1L532.6 264.1L531.8 262.3L530.3 258.4L528.7 253.3L528.2 250.6L527.6 247.7L527.0 244.8L526.3 246.0L526.4 247.4L523.9 248.7L522.4 248.1L518.9 244.7L521.9 242.9L519.7 243.2L517.6 241.9L516.8 241.0L518.0 239.3L523.1 239.1L522.5 237.5L520.4 235.7L520.2 233.4L518.6 231.8L520.2 229.7L523.5 229.8L525.3 227.1L526.8 223.4L527.8 221.6L527.5 219.5L528.9 218.4L527.0 217.3L525.4 216.1L524.7 214.0L524.5 212.2L528.5 212.7L530.8 212.3L532.2 210.1L535.3 212.9L535.4 215.0L537.2 217.9L537.0 221.0L542.7 223.9L541.4 227.6L544.0 228.7L549.2 231.4L552.4 231.8L555.2 233.3L560.4 233.8L559.7 230.0L561.1 229.5L561.8 231.4L562.2 232.8L565.6 232.8L569.0 232.7L567.6 230.3L569.5 230.1L572.5 226.8L576.6 226.0L580.1 229.1L579.6 231.2L576.2 233.3L575.6 237.0L575.0 240.5L573.3 240.0L573.2 244.8L572.4 245.4L571.3 242.5L569.8 242.7L568.6 240.9L568.9 239.8L570.4 237.8L566.2 237.1L564.8 236.7L564.5 234.9L561.2 234.0L560.7 235.4L562.9 236.8L561.1 238.3L562.9 239.6L562.9 242.2Z" fill="#ec7014"/>
<path d="M516.8 241.0L515.2 240.4L513.8 238.0L512.7 236.7L509.1 236.7L505.8 237.0L503.1 237.1L501.5 237.0L501.9 234.2L504.8 233.2L503.4 231.6L503.1 229.0L500.5 227.8L498.2 224.8L502.0 226.0L510.2 224.8L509.9 222.0L512.8 220.8L515.8 219.5L515.2 216.3L517.2 215.6L516.0 214.0L518.3 212.9L518.8 210.3L517.6 208.5L519.8 206.7L524.1 206.1L527.3 207.2L529.9 209.7L532.2 210.1L530.8 212.3L528.5 212.7L524.5 212.2L524.7 214.0L525.4 216.1L527.0 217.3L528.9 218.4L527.5 219.5L527.8 221.6L526.8 223.4L525.3 227.1L523.5 229.8L520.2 229.7L518.6 231.8L520.2 233.4L520.4 235.7L522.5 237.5L523.1 239.1L518.0 239.3Z" fill="#fee391"/>
<path d="M501.5 237.0L499.3 236.7L495.6 236.5L492.9 235.8L490.8 233.3L489.3 231.9L487.4 232.9L485.2 233.4L482.9 233.1L480.7 231.2L478.1 230.1L476.3 227.2L474.7 224.4L473.1 224.3L471.5 223.5L470.9 224.6L469.5 223.3L468.6 222.0L468.7 219.9L467.4 218.0L464.3 216.3L462.7 212.7L463.8 209.3L461.6 208.8L459.8 205.8L458.9 204.1L458.0 202.5L457.2 199.9L458.7 199.1L460.3 201.0L462.0 201.3L462.8 201.3L465.1 199.1L466.3 199.9L466.0 201.5L468.0 202.4L468.3 203.6L469.7 204.9L471.4 205.3L473.4 206.8L475.6 207.2L477.7 206.4L479.4 205.3L481.2 205.0L484.1 203.4L486.0 202.9L490.9 204.9L493.5 207.1L495.4 207.1L496.2 209.8L495.4 213.2L496.6 215.3L496.0 216.6L497.4 220.5L499.6 220.8L499.7 222.3L498.2 224.8L500.5 227.8L503.1 229.0L503.4 231.6L504.8 233.2L501.9 234.2Z" fill="#ffffd4"/>
<path d="M470.9 224.6L469.5 224.5L468.4 224.4L466.7 226.8L462.6 226.5L456.0 221.6L452.2 219.3L449.5 218.8L448.2 215.6L452.7 212.9L452.6 207.7L454.6 205.9L455.9 205.3L458.1 205.4L459.8 205.8L461.6 208.8L463.8 209.3L462.7 212.7L464.3 216.3L467.4 218.0L468.7 219.9L468.6 222.0L469.5 223.3Z" fill="#ffffd4"/>
<path d="M469.5 224.5L469.7 226.1L471.0 228.2L469.4 228.3L468.7 227.1L466.7 226.8L468.4 224.4Z" fill="#ffffd4"/>
<path d="M471.0 228.2L472.4 230.7L474.1 232.3L475.6 233.8L475.8 235.9L477.5 238.2L478.8 238.5L479.3 239.5L479.4 239.8L481.9 242.9L487.8 243.5L489.0 245.3L487.9 250.6L481.4 253.2L474.8 254.2L472.9 255.4L468.9 257.7L466.2 257.4L463.0 257.5L461.7 259.2L460.8 260.0L460.2 258.7L457.4 255.3L454.6 250.8L451.8 246.6L450.1 242.7L448.9 239.8L446.8 237.0L444.9 234.2L442.8 231.5L441.3 229.4L440.4 229.5L440.8 227.6L440.9 226.1L443.3 226.5L444.3 225.7L446.4 224.4L444.9 220.5L449.1 219.2L449.5 218.8L452.2 219.3L456.0 221.6L462.6 226.5L466.7 226.8L468.7 227.1L469.4 228.3Z" fill="#ffffd4"/>
<path d="M477.5 238.2L477.1 236.2L477.9 234.5L479.1 236.7L478.8 238.5Z" fill="#ffffd4"/>
<path d="M479.3 239.5L481.6 239.6L483.9 239.8L485.6 238.9L487.4 236.8L488.9 234.8L489.2 235.8L489.6 235.9L489.9 237.8L489.0 237.8L488.8 240.1L489.0 245.3L487.8 243.5L481.9 242.9L479.4 239.8Z" fill="#ffffd4"/>
<path d="M488.9 234.8L489.5 233.9L489.6 235.9L489.2 235.8Z" fill="#ffffd4"/>
<path d="M489.9 237.8L490.9 239.2L493.6 240.9L495.2 241.2L498.2 244.0L497.4 246.9L496.2 249.0L494.5 253.2L492.0 255.5L488.9 257.1L486.5 258.4L484.3 259.3L481.4 253.2L487.9 250.6L489.0 245.3L488.8 240.1L489.0 237.8Z" fill="#ffffd4"/>
<path d="M484.3 259.3L482.4 261.0L479.8 263.1L475.5 264.8L473.1 266.2L469.7 267.8L466.4 269.4L462.8 269.8L462.3 268.1L461.4 264.1L460.7 261.8L460.8 260.0L461.7 259.2L463.0 257.5L466.2 257.4L468.9 257.7L472.9 255.4L474.8 254.2L481.4 253.2Z" fill="#ffffd4"/>
<path d="M440.9 226.1L440.9 225.7L441.5 221.8L441.6 219.9L441.4 218.2L441.8 217.3L444.2 218.4L448.2 215.6L449.5 218.8L449.1 219.2L444.9 220.5L446.4 224.4L444.3 225.7L443.3 226.5Z" fill="url(#hatchm)" stroke="#b8b8b8" stroke-width="0.4"/>
<path d="M377.8 183.1L377.3 181.9L376.0 182.1L375.6 182.4L375.8 181.5L377.5 179.6L378.7 178.8L380.7 178.3L380.8 178.7L382.7 179.0L382.9 180.2L384.7 180.7L384.0 182.2L382.4 181.7L381.8 183.3L380.6 181.9L379.4 183.1Z" fill="#ffffd4"/>
<path d="M376.1 174.0L375.0 173.9L374.8 172.7L375.6 172.4L376.3 173.2Z" fill="#ffffd4"/>
<path d="M391.2 175.8L389.5 174.5L388.4 173.0L387.5 171.9L387.9 172.1L389.2 171.6L391.7 170.1L392.8 170.5L393.7 170.3L395.6 171.1L395.9 171.4L397.0 171.6L396.8 172.3L398.5 171.9L399.3 172.6L401.2 173.9L399.8 175.0L398.0 175.6L397.6 176.2L395.6 175.8L393.5 175.2L393.0 176.3Z" fill="#cc4c02"/>
<path d="M382.7 179.0L383.9 179.4L384.6 178.9L388.1 178.7L389.9 179.1L389.2 177.5L390.4 176.8L391.2 175.8L393.0 176.3L393.5 175.2L395.6 175.8L397.6 176.2L398.1 177.8L398.0 178.5L396.8 179.3L396.2 180.7L395.3 181.1L393.2 181.9L391.4 181.6L388.8 181.1L388.2 180.2L385.8 180.9L384.7 180.7L382.9 180.2Z" fill="#ffffd4"/>
<path d="M396.2 180.7L396.8 179.3L398.0 178.5L398.1 177.8L399.5 178.4L401.5 178.3L401.8 177.7L404.8 176.5L408.1 176.8L409.8 177.8L408.1 179.1L406.9 181.4L404.9 182.6L402.2 183.1L399.5 183.0L397.3 181.7Z" fill="#fee391"/>
<path d="M398.1 177.8L397.6 176.2L398.0 175.6L399.8 175.0L401.2 173.9L402.4 173.7L403.2 174.7L403.7 174.5L405.5 174.2L408.8 175.0L408.1 176.8L404.8 176.5L401.8 177.7L401.5 178.3L399.5 178.4Z" fill="#ffffd4"/>
<path d="M410.0 168.9L409.8 167.4L409.0 166.9L410.2 165.9L409.0 162.8L410.7 162.9L412.8 162.3L413.1 161.9L413.0 160.5L414.8 159.5L414.3 158.5L417.0 157.4L422.5 158.7L422.7 160.7L427.1 164.1L425.5 164.9L426.0 167.4L423.8 169.4L420.7 168.7L417.1 168.7L412.7 167.9Z" fill="#ffffd4"/>
<path d="M417.2 177.1L418.9 176.6L420.7 177.4L422.6 178.0L424.4 180.8L425.0 181.9L422.8 182.9L421.5 184.3L421.3 182.9L420.7 180.6L419.6 179.6L418.1 178.0Z" fill="#ffffd4"/>
<path d="M402.2 183.1L404.9 182.6L407.8 184.9L407.6 186.0L409.8 186.2L410.4 187.5L409.9 188.5L411.4 190.1L410.4 191.0L410.3 192.4L408.6 192.5L408.9 191.4L408.1 191.0L406.4 190.1L405.4 191.2L405.3 190.7L403.4 189.3L403.9 188.2L403.0 187.0L402.7 185.8L403.4 184.9L402.5 184.5Z" fill="#cc4c02"/>
<path d="M400.3 190.9L399.4 189.6L397.0 187.5L395.9 186.0L395.8 184.9L398.2 184.8L400.5 185.1L402.7 185.8L403.0 187.0L403.9 188.2L403.4 189.3L402.2 190.1L402.1 191.6L401.7 191.4Z" fill="#cc4c02"/>
<path d="M405.4 191.7L405.4 191.2L406.4 190.1L408.1 191.0L408.9 191.4L408.6 192.5L407.6 192.7L406.7 193.5L406.4 192.7Z" fill="#ec7014"/>
<path d="M406.7 193.5L407.6 192.7L408.6 192.5L410.3 192.4L411.8 194.9L409.8 195.4L407.7 196.2L406.6 195.0Z" fill="#ec7014"/>
<path d="M458.7 199.1L457.7 198.4L456.1 198.1L455.6 195.9L455.2 195.5L458.3 195.0L459.9 196.3L460.8 197.8L462.4 199.7L462.8 201.3L462.0 201.3L461.5 200.2L460.3 199.7Z" fill="#ffffd4"/>
<path d="M458.3 195.0L461.6 195.5L461.1 193.4L464.3 195.3L465.6 193.6L466.8 195.0L468.3 196.7L470.3 197.6L468.5 197.8L468.6 200.0L467.8 200.4L468.0 202.4L466.0 201.5L466.3 199.9L465.1 199.1L462.8 201.3L462.4 199.7L460.8 197.8L459.9 196.3Z" fill="#ffffd4"/>
<path d="M458.7 199.1L460.3 199.7L461.5 200.2L462.0 201.3L460.3 201.0Z" fill="#ffffd4"/>
<path d="M468.0 202.4L467.8 200.4L468.6 200.0L468.5 197.8L470.3 197.6L468.3 196.7L466.8 195.0L465.6 193.6L464.9 193.1L462.7 190.7L462.1 188.0L460.2 186.7L460.3 184.7L461.7 183.7L462.0 183.1L464.2 181.9L465.7 181.4L467.5 180.6L469.6 180.6L471.7 180.8L472.4 182.1L472.6 184.4L470.6 184.4L469.1 185.2L469.1 186.7L467.7 187.0L469.6 190.6L470.0 188.9L472.2 191.1L473.8 193.8L475.2 195.5L475.8 198.4L477.4 199.9L478.5 201.2L478.9 203.8L479.4 205.3L477.7 206.4L475.6 207.2L473.4 206.8L471.4 205.3L469.7 204.9L468.3 203.6Z" fill="#ffffff"/>
<path d="M473.8 193.8L472.2 191.1L470.0 188.9L469.6 190.6L467.7 187.0L469.1 186.7L469.1 185.2L470.6 184.4L472.6 184.4L472.4 182.1L471.7 180.8L469.6 180.6L467.5 180.6L465.7 181.4L464.2 181.9L462.5 181.1L459.6 178.3L457.8 176.5L457.9 174.7L457.1 173.0L460.3 173.1L460.6 171.2L463.8 168.4L469.1 168.9L471.9 170.2L474.4 171.2L479.8 170.1L482.0 171.3L485.6 170.7L485.5 169.4L481.7 167.7L482.8 165.3L482.6 163.7L483.7 162.7L489.6 161.8L494.8 160.3L495.8 159.3L499.4 159.5L501.5 162.4L506.0 162.9L506.4 162.6L511.5 161.9L512.2 161.7L515.5 164.4L522.6 170.7L529.1 170.2L534.4 173.7L539.2 175.0L538.5 175.7L537.0 176.8L537.9 180.2L532.6 179.8L532.9 184.0L529.5 185.3L532.2 190.2L532.0 192.7L528.8 191.1L521.8 191.0L518.6 190.1L517.6 192.0L512.2 191.6L512.4 192.5L511.3 194.2L509.1 195.3L507.5 196.3L506.8 195.4L504.3 195.4L502.2 193.2L501.6 190.6L489.9 187.0L484.0 183.9L479.1 185.4L481.6 194.9L480.3 195.0L478.6 193.2L476.5 192.4Z" fill="#cc4c02"/>
<path d="M479.4 205.3L478.9 203.8L478.5 201.2L477.4 199.9L475.8 198.4L475.2 195.5L473.8 193.8L476.5 192.4L478.6 193.2L480.3 195.0L481.6 194.9L483.7 195.0L483.5 193.3L486.1 191.1L489.4 192.7L490.2 194.7L494.2 195.5L496.2 198.4L500.5 201.1L506.5 205.2L504.6 205.4L503.1 206.4L500.1 209.2L498.6 210.6L496.2 209.8L495.4 207.1L493.5 207.1L490.9 204.9L486.0 202.9L484.1 203.4L481.2 205.0Z" fill="#ffffd4"/>
<path d="M540.1 174.8L543.0 173.0L546.6 170.9L551.4 171.3L558.5 173.3L559.4 171.4L558.5 167.4L566.0 169.4L567.3 171.2L573.0 171.7L577.6 172.8L581.6 174.5L586.3 174.9L590.2 173.7L592.2 172.1L597.3 173.1L597.4 175.6L598.1 178.0L602.9 178.0L608.7 181.1L602.5 182.1L600.5 184.4L598.6 186.1L594.5 187.0L596.6 188.8L593.9 191.5L588.9 192.0L584.7 194.2L576.9 191.9L573.0 191.5L565.3 191.2L561.4 187.2L556.7 185.6L551.0 184.9L549.6 181.4L546.1 178.0L541.2 176.3Z" fill="#cc4c02"/>
<path d="M512.4 192.5L512.2 191.6L517.6 192.0L518.6 190.1L521.8 191.0L528.8 191.1L532.0 192.7L529.0 194.7L526.0 195.8L524.5 197.6L522.0 197.2L520.6 198.7L520.3 199.8L516.5 200.2L513.7 199.4L514.0 197.7L515.6 198.0L516.9 197.3L518.1 196.3L516.0 195.8L514.4 194.5Z" fill="#fec44f"/>
<path d="M481.6 194.9L479.1 185.4L484.0 183.9L489.9 187.0L501.6 190.6L502.2 193.2L504.3 195.4L506.8 195.4L507.5 196.3L509.1 195.3L511.3 194.2L512.4 192.5L514.4 194.5L516.0 195.8L518.1 196.3L516.9 197.3L515.6 198.0L514.0 197.7L512.7 197.3L513.3 196.5L512.2 195.8L510.1 196.3L509.1 198.0L509.3 199.5L507.2 200.4L510.0 203.0L509.3 203.6L509.4 205.7L506.5 205.2L500.5 201.1L496.2 198.4L494.2 195.5L490.2 194.7L489.4 192.7L486.1 191.1L483.5 193.3L483.7 195.0Z" fill="#fee391"/>
<path d="M506.5 205.2L509.4 205.7L512.7 205.9L514.3 204.6L516.9 203.8L517.9 206.9L521.1 205.0L524.6 205.6L524.1 206.1L519.8 206.7L517.6 208.5L518.8 210.3L518.3 212.9L516.0 214.0L517.2 215.6L515.2 216.3L515.8 219.5L512.8 220.8L509.9 222.0L510.2 224.8L502.0 226.0L498.2 224.8L499.7 222.3L499.6 220.8L497.4 220.5L496.0 216.6L496.6 215.3L495.4 213.2L496.2 209.8L498.6 210.6L500.1 209.2L503.1 206.4L504.6 205.4Z" fill="#ffffd4"/>
<path d="M509.4 205.7L509.3 203.6L510.0 203.0L507.2 200.4L509.3 199.5L509.1 198.0L510.1 196.3L512.2 195.8L513.3 196.5L512.7 197.3L514.0 197.7L513.7 199.4L516.5 200.2L520.3 199.8L521.3 202.0L523.8 202.4L524.6 205.6L521.1 205.0L517.9 206.9L516.9 203.8L514.3 204.6L512.7 205.9Z" fill="#fee391"/>
<path d="M542.7 223.9L545.0 223.5L550.1 226.8L554.9 229.7L559.7 230.0L560.4 233.8L555.2 233.3L552.4 231.8L549.2 231.4L544.0 228.7L541.4 227.6Z" fill="url(#hatchm)" stroke="#b8b8b8" stroke-width="0.4"/>
<path d="M561.8 231.4L562.9 229.3L567.4 229.8L567.6 230.3L569.0 232.7L565.6 232.8L562.2 232.8Z" fill="#ffffd4"/>
<path d="M591.9 246.5L593.4 247.6L593.0 244.2L593.8 244.3L595.8 246.4L596.4 248.2L600.1 248.9L599.3 251.3L602.3 254.0L606.0 258.4L608.3 260.9L609.1 264.4L605.6 265.3L604.7 265.3L604.2 261.9L602.1 260.0L601.7 257.2L599.7 255.0L597.9 255.0L595.4 255.3L593.4 257.1L592.9 251.7L591.4 251.9L590.0 249.6L590.9 248.3Z" fill="#ec7014"/>
<path d="M441.4 218.2L441.6 219.9L441.4 220.5L440.9 220.9L440.3 220.3L440.3 218.7L440.6 217.9Z" fill="url(#hatchm)" stroke="#b8b8b8" stroke-width="0.4"/>
<path d="M255.3 108.4L264.4 106.4L269.8 105.3L271.6 103.2L280.1 101.6L294.4 101.0L309.0 99.6L318.7 99.2L329.2 100.0L334.2 101.6L346.5 102.4L340.5 104.1L337.3 105.8L335.1 108.7L335.2 111.6L332.2 114.6L331.0 116.6L328.2 118.7L327.7 120.8L327.0 124.0L322.0 124.5L325.2 125.1L325.9 125.6L319.5 128.2L312.5 129.3L308.0 130.2L304.7 132.7L298.0 135.0L293.2 136.3L290.3 139.8L286.5 143.3L284.5 146.6L282.3 148.5L279.6 147.6L275.6 145.9L273.7 143.8L272.9 141.0L271.9 138.2L271.8 135.2L271.1 132.0L272.5 129.5L277.6 127.8L278.2 126.2L272.5 126.0L272.8 124.5L278.0 123.2L273.8 123.4L277.5 122.5L273.3 121.2L274.0 119.1L274.3 116.6L272.8 114.0L268.4 112.6L261.5 112.6L258.6 112.4L255.6 111.4L257.1 109.6Z" fill="url(#hatchm)" stroke="#b8b8b8" stroke-width="0.4"/>
<path d="M320.6 135.2L324.5 133.0L326.0 135.2L328.1 133.8L332.1 133.6L335.4 132.9L338.2 133.2L339.5 136.3L337.2 137.9L334.9 139.0L329.8 140.0L327.2 139.7L323.0 139.1L324.6 137.9L321.2 136.7L324.8 136.1L324.1 135.2Z" fill="#ffffd4"/>
<path d="M351.9 172.6L353.3 171.8L354.3 170.4L357.3 169.7L358.0 168.7L357.0 169.2L355.4 168.8L352.8 168.3L355.2 166.9L355.3 165.4L354.0 165.7L354.5 164.3L357.2 164.4L357.5 163.2L357.7 162.2L356.3 161.4L357.5 160.3L353.8 161.1L353.5 160.2L354.5 159.0L353.9 157.9L352.3 159.5L352.6 157.5L351.5 156.0L352.5 154.6L352.4 153.2L354.0 151.4L357.6 151.3L355.8 153.1L355.4 154.1L359.5 153.6L359.9 154.2L359.3 155.1L358.5 157.0L357.0 157.8L359.5 158.2L360.5 160.2L361.2 161.2L363.1 162.4L363.5 163.7L364.0 164.9L363.5 165.4L364.3 165.3L365.8 165.4L366.7 166.4L366.5 167.4L365.5 168.2L365.1 168.9L364.3 169.1L366.1 169.2L366.0 169.9L365.2 170.4L363.8 170.8L361.7 170.8L360.7 170.8L359.3 171.2L358.4 171.4L357.3 170.9L356.1 172.1L354.9 171.8L352.9 172.8Z" fill="#ffffd4"/>
<path d="M343.9 169.1L342.7 167.4L343.8 166.3L344.9 165.2L343.5 164.2L343.7 162.1L346.6 161.9L346.3 161.1L347.3 159.8L349.2 159.3L349.4 159.3L348.8 160.8L347.5 161.6L348.6 162.3L349.7 161.7L350.4 162.6L351.5 162.7L351.4 164.3L351.5 165.3L350.8 167.3L348.3 167.7L346.9 168.3Z" fill="#ffffd4"/>
<path d="M349.4 159.3L351.5 159.7L352.5 161.1L352.7 161.7L351.6 162.6L351.5 162.7L350.4 162.6L349.7 161.7L348.6 162.3L347.5 161.6L348.8 160.8Z" fill="#ffffd4"/>
<path d="M379.2 105.5L383.4 104.9L386.2 104.8L389.3 105.7L391.2 107.3L394.2 107.7L391.0 109.6L388.6 111.5L385.9 110.6L383.7 109.0L380.1 107.1L379.0 106.2Z" fill="#ffffd4"/>
<path d="M389.7 104.6L392.5 104.2L397.5 104.4L401.9 104.7L401.6 105.8L397.5 106.4L392.2 105.8L389.9 105.3Z" fill="#ffffd4"/>
<path d="M394.3 108.3L397.4 108.5L399.8 109.2L397.1 110.0L394.9 109.4Z" fill="#ffffd4"/>
<path d="M448.2 122.3L448.8 120.4L448.4 118.1L450.5 116.2L451.1 114.6L453.4 113.4L457.1 112.2L461.7 111.2L466.6 110.7L466.9 112.0L462.5 113.2L458.1 114.6L456.6 116.0L454.5 117.7L455.1 120.2L457.5 123.0L455.4 123.7L452.0 123.4Z" fill="#ec7014"/>
<path d="M511.6 108.7L513.0 106.4L518.0 107.9L516.3 108.9Z" fill="#ec7014"/>
<path d="M501.9 106.8L501.2 104.1L507.2 105.3L508.2 107.1Z" fill="#ec7014"/>
<path d="M575.3 113.6L575.4 112.2L581.4 112.6L586.1 113.6L586.2 114.6L581.4 115.0L578.0 114.8Z" fill="#ec7014"/>
<path d="M589.9 114.0L593.1 113.6L596.7 114.4L594.8 115.1Z" fill="#ec7014"/>
<path d="M585.3 117.7L587.3 116.8L591.2 117.9L588.6 118.3Z" fill="#ec7014"/>
<path d="M444.4 126.7L445.9 126.2L447.7 127.3L445.8 128.0Z" fill="#ec7014"/>
<path d="M639.6 161.7L643.1 164.4L646.1 167.7L649.6 171.4L653.2 174.7L655.6 176.0L651.2 175.0L654.8 179.6L657.7 181.9L658.0 182.9L655.3 181.1L655.4 183.1L653.1 180.3L651.7 177.8L648.6 174.0L645.8 170.2L642.9 167.7L640.1 164.2L639.7 162.7Z" fill="#ec7014"/>
<path d="M61.3 127.4L63.0 128.4L64.7 130.7L68.2 131.8L69.3 133.8L66.0 135.2L61.5 136.3L58.9 137.8L56.9 137.9L55.0 136.8L55.6 135.2L52.1 135.2L53.9 133.4L48.1 136.1Z" fill="#ec7014"/>
<path d="M656.5 191.6L656.4 189.8L658.6 190.1L655.3 184.2L658.0 185.4L662.2 187.6L665.0 187.1L665.5 188.8L667.7 189.6L665.5 190.7L664.8 193.4L661.0 191.8L659.5 192.4L658.2 192.7L660.5 193.7L659.1 194.7L657.1 192.7Z" fill="#cc4c02"/>
<path d="M660.6 194.5L661.9 194.9L663.4 197.1L666.0 199.4L666.9 202.8L666.0 203.6L667.4 206.2L667.5 208.0L668.8 209.6L668.3 211.0L667.6 211.6L666.6 209.8L665.8 210.9L665.8 212.4L664.6 211.4L664.4 212.4L661.8 212.4L661.1 211.4L662.0 213.3L660.8 215.0L660.4 215.4L658.5 214.3L658.0 213.2L658.2 212.3L656.2 212.2L654.4 212.9L652.1 213.2L649.2 214.1L648.7 212.9L650.5 211.6L651.4 210.2L652.6 209.9L654.8 209.9L656.5 209.4L658.2 209.8L657.9 208.2L657.9 205.8L658.9 204.9L659.5 206.8L661.2 205.8L661.6 204.1L661.9 203.6L662.2 202.0L662.0 200.4L660.4 198.5L660.1 196.8L659.8 195.1L661.4 196.2L661.7 195.3Z" fill="#cc4c02"/>
<path d="M652.3 215.7L653.3 214.0L653.6 213.7L655.6 213.1L657.1 213.5L657.8 214.4L657.2 215.9L655.5 215.3L655.2 217.3L653.8 216.6Z" fill="#cc4c02"/>
<path d="M649.3 214.3L651.5 215.0L652.9 217.1L652.9 220.8L651.8 221.8L650.5 221.0L649.7 219.0L650.0 217.6L648.1 217.4L647.2 216.1L647.5 215.2L648.5 214.9Z" fill="#cc4c02"/>
<path d="M649.2 234.6L650.1 232.8L649.7 233.8Z" fill="#cc4c02"/>
<path d="M636.0 236.7L637.2 237.5L636.8 240.1L636.9 242.5L636.2 245.6L634.4 243.8L633.7 241.4L634.9 238.3Z" fill="#cc4c02"/>
<path d="M610.0 252.6L611.7 250.6L613.9 250.3L615.2 251.6L614.3 253.7L612.5 255.3L610.3 254.5Z" fill="#cc4c02"/>
<path d="M547.1 277.2L549.3 279.3L550.2 280.6L551.6 283.5L551.4 286.1L548.9 287.3L547.5 286.6L546.9 284.0L546.7 281.4L547.0 279.3Z" fill="#fec44f"/>
<path d="M637.2 254.5L638.4 254.1L641.0 254.6L641.7 257.6L642.6 260.2L640.7 261.3L641.1 264.1L643.8 265.4L646.7 266.8L647.7 269.9L645.6 268.8L644.0 268.3L642.4 266.8L640.1 267.0L639.1 265.7L639.6 264.7L638.5 264.7L637.6 263.6L636.4 260.1L637.7 260.7L637.5 257.9Z" fill="#fe9929"/>
<path d="M644.2 284.8L644.6 282.4L646.8 280.3L649.1 280.6L650.2 279.3L651.6 277.2L653.6 279.6L654.6 283.7L653.9 286.3L652.4 284.5L652.0 288.2L649.3 286.6L648.7 284.5L647.0 283.2L645.9 283.5Z" fill="#fe9929"/>
<path d="M648.1 270.1L650.4 270.1L651.8 273.8L650.1 273.8Z" fill="#fe9929"/>
<path d="M648.6 273.0L650.1 273.5L650.8 276.2L649.7 276.4Z" fill="#fe9929"/>
<path d="M645.3 274.3L646.7 274.6L646.6 278.5L645.0 278.2L644.4 276.7Z" fill="#fe9929"/>
<path d="M642.8 271.7L645.6 272.8L644.8 275.4L643.4 275.4Z" fill="#fe9929"/>
<path d="M646.8 278.0L647.1 275.6L647.9 273.5L647.8 276.2Z" fill="#fe9929"/>
<path d="M647.7 276.9L649.5 276.7L648.9 277.7Z" fill="#fe9929"/>
<path d="M638.6 267.7L640.7 267.7L641.7 270.4L640.4 270.9Z" fill="#fe9929"/>
<path d="M632.8 280.9L634.5 278.8L637.4 273.3L638.1 275.4L635.7 279.3L633.5 281.1Z" fill="#fe9929"/>
<path d="M645.6 270.1L647.4 270.1L646.9 271.7Z" fill="#fe9929"/>
<path d="M582.8 288.3L587.9 289.2L590.9 293.0L593.9 296.0L596.3 297.6L599.1 299.4L601.9 301.5L602.8 302.8L602.1 305.4L604.4 307.5L607.5 310.6L607.4 313.8L607.1 318.1L604.1 317.4L600.7 314.8L599.1 313.0L596.3 309.3L594.8 305.3L592.0 301.8L591.0 298.4L588.4 296.5L584.8 292.1L582.6 289.2Z" fill="#fe9929"/>
<path d="M605.6 320.4L607.4 318.2L609.2 318.7L612.7 319.3L613.3 320.4L617.4 320.8L618.6 319.5L622.5 320.8L622.8 321.6L626.6 323.2L626.6 325.7L623.2 324.5L618.6 324.3L614.1 323.0L611.8 323.0L608.1 322.0L606.1 320.7Z" fill="#fe9929"/>
<path d="M652.1 298.6L650.1 301.8L647.1 301.6L643.6 301.6L640.9 301.5L640.4 302.8L640.4 304.6L640.9 305.2L643.2 305.2L644.8 305.3L646.6 305.3L648.1 305.0L646.4 307.0L645.2 307.2L643.6 308.0L645.1 310.6L645.8 311.9L647.1 313.2L647.2 315.3L645.7 316.9L644.2 315.5L643.3 314.8L643.0 312.7L642.1 309.7L640.6 310.6L640.8 314.6L640.7 317.4L638.3 317.2L638.7 314.6L638.8 311.9L637.3 309.9L638.5 307.8L638.5 306.2L639.8 304.6L639.7 302.3L640.6 300.4L642.0 299.4L644.8 300.1L648.2 300.3L651.2 298.9Z" fill="#fe9929"/>
<path d="M616.2 297.4L617.9 298.6L619.8 299.1L620.3 296.5L623.9 294.4L626.0 291.3L628.2 289.7L629.4 288.4L630.6 287.2L632.0 284.5L634.1 285.8L635.3 287.5L638.1 288.8L636.6 291.2L635.0 291.9L633.4 291.4L630.0 291.6L629.8 293.8L629.0 295.2L628.3 296.8L627.7 299.0L625.6 299.5L622.2 299.0L621.2 300.2L618.5 300.4L617.1 299.4Z" fill="#cc4c02"/>
<path d="M635.0 291.9L634.5 294.2L635.5 297.1L637.8 300.2L635.1 300.7L634.4 304.1L632.8 306.1L632.0 309.1L631.2 312.2L627.5 313.6L627.1 311.7L623.9 311.2L620.9 311.9L617.4 310.5L617.1 307.0L615.0 303.8L615.1 303.1L614.6 300.4L615.5 298.6L616.2 297.4L617.1 299.4L618.5 300.4L621.2 300.2L622.2 299.0L625.6 299.5L627.7 299.0L628.3 296.8L629.0 295.2L629.8 293.8L630.0 291.6L633.4 291.4Z" fill="#fe9929"/>
<path d="M665.5 304.9L669.0 303.8L672.7 305.0L672.9 308.0L674.6 311.6L677.7 308.5L681.2 306.7L683.9 308.0L687.8 309.3L688.5 309.6L688.0 319.3L687.5 320.6L687.8 321.1L687.4 326.6L685.3 324.2L683.0 324.0L679.9 324.7L682.3 320.8L681.2 317.2L676.7 314.8L672.2 312.7L669.9 313.5L669.4 310.6L671.9 309.6L667.8 308.5L666.2 306.7L665.3 306.2Z" fill="#fe9929"/>
<path d="M688.5 309.6L691.9 311.2L694.5 312.1L699.2 316.4L701.6 318.5L703.7 320.3L701.7 320.4L703.3 323.4L706.5 326.4L707.8 329.2L709.7 329.5L707.4 330.5L703.2 329.3L701.4 327.6L699.1 324.0L695.8 322.7L693.3 324.5L692.7 326.3L689.6 326.8L687.4 326.6L687.8 321.1L687.5 320.6L688.0 319.3Z" fill="#ffffd4"/>
<path d="M646.7 329.8L647.3 327.9L649.2 326.8L650.6 325.6L650.6 328.1L649.0 329.3Z" fill="#fe9929"/>
<path d="M650.6 325.6L650.9 325.4L654.2 324.9L656.0 324.7L655.0 325.7L651.4 327.5L650.6 328.1Z" fill="#ffffd4"/>
<path d="M626.5 324.2L629.4 324.7L628.1 325.9Z" fill="#fe9929"/>
<path d="M629.8 324.9L631.7 324.7L630.9 326.2Z" fill="#fe9929"/>
<path d="M631.9 325.0L637.2 324.5L636.9 325.7L632.2 326.4Z" fill="#fe9929"/>
<path d="M639.0 324.9L646.0 324.2L645.6 325.4L639.2 325.9Z" fill="#fe9929"/>
<path d="M636.7 327.5L640.8 328.8L639.3 329.7L636.7 328.3Z" fill="#fe9929"/>
<path d="M657.5 300.2L658.6 297.1L660.2 298.9L658.6 301.2L660.3 302.0L659.1 304.9L657.9 303.6Z" fill="#fe9929"/>
<path d="M658.5 310.6L664.9 310.6L663.0 312.2L658.7 311.7Z" fill="#fe9929"/>
<path d="M653.9 311.2L656.6 311.4L655.6 312.9L653.8 312.2Z" fill="#fe9929"/>
<path d="M645.6 315.1L647.1 316.6L645.9 317.4Z" fill="#fe9929"/>
<path d="M672.4 317.9L673.7 319.3L672.4 320.6Z" fill="#fe9929"/>
<path d="M649.2 324.5L651.0 324.2L649.6 324.9Z" fill="#fe9929"/>
<path d="M690.4 330.7L692.1 335.5L692.1 340.2L695.2 341.9L695.4 346.9L695.6 350.6L696.4 353.1L700.1 356.3L700.8 357.9L701.3 361.3L702.9 364.2L705.0 365.5L705.6 367.6L707.5 367.8L706.2 370.7L705.9 374.4L704.9 377.6L702.1 381.9L698.6 386.9L696.2 388.7L693.9 391.2L691.3 394.2L686.8 399.4L686.0 400.7L681.2 401.8L675.9 405.0L674.0 403.1L673.5 402.8L670.2 404.2L666.7 403.1L664.7 402.0L664.7 399.2L665.6 396.6L662.9 395.9L664.7 394.0L664.4 392.1L662.9 394.5L661.0 394.9L663.6 391.6L665.8 387.7L662.8 390.8L659.0 394.0L658.0 392.9L657.5 389.0L657.1 386.6L652.5 385.1L647.5 385.5L640.2 387.2L635.1 389.0L633.1 391.3L629.6 391.3L625.4 391.5L619.7 394.4L615.8 393.8L614.3 392.5L614.9 390.4L616.7 389.8L618.0 386.4L617.6 382.5L618.1 378.0L617.6 374.6L616.6 371.1L618.4 367.8L618.4 365.5L619.8 361.8L621.2 359.7L621.4 361.3L624.4 358.7L627.5 356.7L631.9 355.8L635.3 354.8L639.2 351.9L641.2 349.8L641.6 347.2L643.5 345.6L644.7 348.1L646.0 345.4L648.0 342.8L650.7 340.4L653.6 338.7L655.4 340.7L656.0 342.8L659.1 341.7L659.8 339.1L661.6 337.0L663.1 335.2L665.4 334.7L667.5 332.4L669.4 333.6L673.2 334.4L676.2 333.9L677.1 334.9L675.8 337.3L674.2 338.6L673.8 341.7L675.2 344.1L677.3 345.4L680.4 348.2L683.9 348.5L685.8 344.6L687.3 339.4L688.2 335.8L689.4 331.5Z" fill="#cc4c02"/>
<path d="M669.9 409.1L673.1 410.1L677.3 409.4L675.3 412.4L672.6 415.5L669.6 416.5L667.9 416.3L668.2 413.7L669.1 410.3Z" fill="#cc4c02"/>
<path d="M739.9 392.7L740.2 394.2L742.0 395.0L741.4 397.6L740.5 399.0L742.4 398.1L742.3 400.0L742.2 401.1L743.7 402.0L746.2 400.9L747.2 401.3L745.0 403.6L743.0 405.3L740.8 405.7L738.9 408.0L735.0 410.6L733.0 411.4L732.5 410.6L735.5 407.8L735.5 407.1L734.0 405.4L735.2 404.8L736.9 403.9L738.8 401.8L739.9 399.7L740.0 397.9L739.7 395.5L739.5 394.7Z" fill="#fec44f"/>
<path d="M729.6 408.5L728.9 410.6L732.0 409.8L730.5 411.7L728.0 413.5L724.3 415.8L723.9 416.9L721.7 417.3L718.8 418.6L716.5 420.4L714.5 422.3L711.2 424.0L708.1 424.2L707.5 423.2L705.4 423.1L706.6 421.4L711.2 419.1L713.8 417.6L717.8 416.0L721.6 414.2L724.9 411.8L728.0 409.3Z" fill="#fec44f"/>
<path d="M390.1 204.1L391.8 203.0L396.8 202.9L396.3 206.0L395.9 206.9L394.1 206.2L392.4 205.4L390.6 204.7Z" fill="#ffffd4"/>
<path d="M380.6 195.8L382.7 195.1L384.1 197.1L383.7 200.6L382.4 201.1L381.2 200.7L381.2 198.6L381.2 197.6Z" fill="#ffffd4"/>
<path d="M381.4 192.3L383.0 190.6L383.4 192.7L382.7 194.7L381.9 194.2Z" fill="#ffffd4"/>
<path d="M414.4 209.9L415.8 209.9L419.1 210.5L420.4 210.7L418.8 211.5L415.5 211.0L414.5 210.7Z" fill="#fec44f"/>
<path d="M433.5 211.2L434.9 210.3L438.2 209.6L437.0 211.1L437.4 211.5L435.2 212.4L433.8 212.0Z" fill="#ffffd4"/>
<path d="M412.5 201.2L414.0 201.6L416.0 203.2L416.0 203.7L413.6 202.3Z" fill="#fec44f"/>
<path d="M384.8 158.5L385.9 157.9L387.3 157.6L387.4 158.6L386.8 159.7L386.4 160.3L384.8 159.7Z" fill="#fee391"/>
<path d="M382.1 159.0L383.6 158.9L384.1 159.7L382.8 160.1Z" fill="#fee391"/>
<path d="M309.0 262.8L309.9 262.8L309.6 263.9Z" fill="#ffffd4"/>
<path d="M723.4 320.0L725.8 321.6L725.2 322.4L723.5 321.1Z" fill="#ffffd4"/>
<path d="M727.6 322.1L730.8 324.5L730.5 325.3L727.7 323.2Z" fill="#ffffd4"/>
<path d="M730.1 327.1L732.7 327.9L732.4 328.8L730.2 328.1Z" fill="#ffffd4"/>
<path d="M732.6 324.7L733.5 325.3L734.1 327.9L733.0 327.1Z" fill="#ffffd4"/>
<path d="M733.7 329.7L735.9 330.5L735.5 331.1L733.8 330.5Z" fill="#ffffd4"/>
<path d="M744.0 341.2L745.2 342.0L744.9 343.5L743.8 343.3Z" fill="#ffffd4"/>
<path d="M744.8 344.3L746.0 345.1L745.6 345.9L744.8 345.4Z" fill="#ffffd4"/>
<path d="M745.8 348.8L747.0 348.8L746.3 349.6Z" fill="#ffffd4"/>
<path d="M766.8 348.5L769.0 348.0L769.8 349.6L767.7 350.6L766.5 349.8Z" fill="#ffffd4"/>
<path d="M770.0 346.7L773.6 345.1L773.3 346.2L770.8 347.2Z" fill="#ffffd4"/>
<path d="M734.9 355.3L737.8 357.4L740.3 360.8L739.0 361.3L735.9 358.4L734.5 356.1Z" fill="url(#hatchm)" stroke="#b8b8b8" stroke-width="0.4"/>
<path d="M705.1 317.2L708.9 315.9L712.5 313.8L714.4 313.8L713.5 315.9L711.1 318.2L707.6 319.0L705.1 318.2Z" fill="#ffffd4"/>
<path d="M711.1 309.6L714.9 311.9L716.1 314.8L715.5 314.6L712.7 311.2Z" fill="#ffffd4"/>
<path d="M719.7 317.2L722.2 320.6L720.8 320.3Z" fill="#ffffd4"/>
</g>
<g>
<text x="17" y="39.5" font-family="Liberation Serif" font-weight="bold" font-size="26.5" fill="#363636" textLength="543.5" lengthAdjust="spacingAndGlyphs">Per capita electricity generation from coal, 2025</text>
<text x="17" y="66.4" font-family="Liberation Sans" font-size="14" fill="#5b5b5b" textLength="258.5" lengthAdjust="spacingAndGlyphs">Measured in kilowatt-hours per person.</text>
<rect x="769" y="16" width="65" height="36" fill="#002147"/>
<rect x="769" y="49.3" width="65" height="2.7" fill="#ce261e"/>
<text x="801.3" y="30.8" text-anchor="middle" font-family="Liberation Sans" font-weight="bold" font-size="11" fill="#fff" textLength="54.7" lengthAdjust="spacingAndGlyphs">Our World</text>
<text x="801.6" y="42.6" text-anchor="middle" font-family="Liberation Sans" font-weight="bold" font-size="11" fill="#fff" textLength="36.5" lengthAdjust="spacingAndGlyphs">in Data</text>
<rect x="129.5" y="517.3" width="46.9" height="10.7" fill="url(#hatchm)" stroke="#c2c2c2" stroke-width="0.8"/>
<line x1="153" y1="514" x2="153" y2="517" stroke="#cfcfcf" stroke-width="1"/>
<text x="153" y="509.7" text-anchor="middle" font-family="Liberation Sans" font-size="12" fill="#5b5b5b" textLength="46" lengthAdjust="spacingAndGlyphs">No data</text>
<rect x="196.5" y="516.5" width="75.2" height="12.0" fill="#ffffd4"/>
<rect x="271.4" y="516.5" width="75.2" height="12.0" fill="#fee391"/>
<rect x="346.3" y="516.5" width="75.2" height="12.0" fill="#fec44f"/>
<rect x="421.2" y="516.5" width="75.2" height="12.0" fill="#fe9929"/>
<rect x="496.1" y="516.5" width="75.2" height="12.0" fill="#ec7014"/>
<rect x="571.0" y="516.5" width="75.2" height="12.0" fill="#cc4c02"/>
<path d="M645.9 516.5 H714.5 L721 522.5 L714.5 528.5 H645.9 Z" fill="#8c2d04"/>
<path d="M196.5 516.5 H714.5 L721 522.5 L714.5 528.5 H196.5 Z" fill="none" stroke="#c9c9c9" stroke-width="0.7"/>
<line x1="196.5" y1="499.5" x2="196.5" y2="528.5" stroke="#b9b9b9" stroke-width="1"/>
<text x="196.5" y="495.1" text-anchor="middle" font-family="Liberation Sans" font-size="12" fill="#5b5b5b" textLength="38.8" lengthAdjust="spacingAndGlyphs">0 kWh</text>
<line x1="271.4" y1="513" x2="271.4" y2="528.5" stroke="#b9b9b9" stroke-width="1"/>
<text x="271.4" y="509.7" text-anchor="middle" font-family="Liberation Sans" font-size="12" fill="#5b5b5b" textLength="54.2" lengthAdjust="spacingAndGlyphs">100 kWh</text>
<line x1="346.3" y1="499.5" x2="346.3" y2="528.5" stroke="#b9b9b9" stroke-width="1"/>
<text x="346.3" y="495.1" text-anchor="middle" font-family="Liberation Sans" font-size="12" fill="#5b5b5b" textLength="54.2" lengthAdjust="spacingAndGlyphs">200 kWh</text>
<line x1="421.2" y1="513" x2="421.2" y2="528.5" stroke="#b9b9b9" stroke-width="1"/>
<text x="421.2" y="509.7" text-anchor="middle" font-family="Liberation Sans" font-size="12" fill="#5b5b5b" textLength="54.2" lengthAdjust="spacingAndGlyphs">500 kWh</text>
<line x1="496.1" y1="499.5" x2="496.1" y2="528.5" stroke="#b9b9b9" stroke-width="1"/>
<text x="496.1" y="495.1" text-anchor="middle" font-family="Liberation Sans" font-size="12" fill="#5b5b5b" textLength="64.6" lengthAdjust="spacingAndGlyphs">1,000 kWh</text>
<line x1="571.0" y1="513" x2="571.0" y2="528.5" stroke="#b9b9b9" stroke-width="1"/>
<text x="571.0" y="509.7" text-anchor="middle" font-family="Liberation Sans" font-size="12" fill="#5b5b5b" textLength="64.6" lengthAdjust="spacingAndGlyphs">2,000 kWh</text>
<line x1="645.9" y1="499.5" x2="645.9" y2="528.5" stroke="#b9b9b9" stroke-width="1"/>
<text x="645.9" y="495.1" text-anchor="middle" font-family="Liberation Sans" font-size="12" fill="#5b5b5b" textLength="64.6" lengthAdjust="spacingAndGlyphs">5,000 kWh</text>
<text x="17" y="560.7" font-family="Liberation Sans" font-weight="bold" font-size="13" fill="#5b5b5b" textLength="71.5" lengthAdjust="spacingAndGlyphs">Data source:</text>
<text x="92.2" y="560.7" font-family="Liberation Sans" font-size="13" fill="#5b5b5b" textLength="675.1" lengthAdjust="spacingAndGlyphs">Ember (2026); Energy Institute - Statistical Review of World Energy (2025); Population based on various sources (2024)</text>
<text x="17" y="580" font-family="Liberation Sans" font-size="13" fill="#5b5b5b" textLength="204.8" lengthAdjust="spacingAndGlyphs">OurWorldinData.org/energy | CC BY</text>
</g>
</svg></body></html>
